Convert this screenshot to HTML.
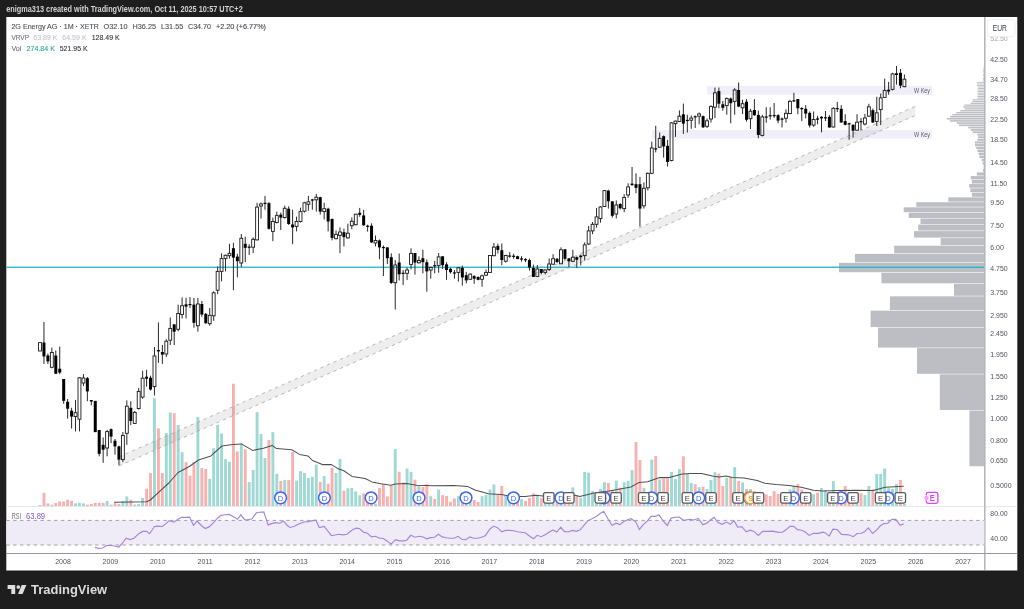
<!DOCTYPE html>
<html><head><meta charset="utf-8"><style>
html,body{margin:0;padding:0;background:#1e1e1e;overflow:hidden;width:1024px;height:609px}
svg{display:block;will-change:transform}
</style></head><body>
<svg width="1024" height="609" viewBox="0 0 1024 609">
<rect width="1024" height="609" fill="#1e1e1e"/>
<rect x="6.3" y="17.0" width="1011.0" height="553.5" fill="#ffffff"/>
<text x="6.3" y="12.1" font-family="Liberation Sans, sans-serif" font-size="8.5" fill="#d4d4d4" textLength="236.4" lengthAdjust="spacingAndGlyphs" font-weight="bold">enigma313 created with TradingView.com, Oct 11, 2025 10:57 UTC+2</text>
<rect x="969.4" y="410.52" width="14.6" height="55.71" fill="#bdbec3"/>
<rect x="939.8" y="374.35" width="44.2" height="35.62" fill="#bdbec3"/>
<rect x="917.0" y="348.15" width="67.0" height="25.64" fill="#bdbec3"/>
<rect x="878.0" y="327.61" width="106.0" height="20.00" fill="#bdbec3"/>
<rect x="870.6" y="310.70" width="113.4" height="16.36" fill="#bdbec3"/>
<rect x="889.9" y="296.33" width="94.1" height="13.82" fill="#bdbec3"/>
<rect x="954.0" y="283.84" width="30.0" height="11.94" fill="#bdbec3"/>
<rect x="881.4" y="272.79" width="102.6" height="10.50" fill="#bdbec3"/>
<rect x="839.0" y="262.88" width="145.0" height="9.36" fill="#bdbec3"/>
<rect x="854.9" y="253.91" width="129.1" height="8.43" fill="#bdbec3"/>
<rect x="894.2" y="245.70" width="89.8" height="7.66" fill="#bdbec3"/>
<rect x="940.6" y="238.14" width="43.4" height="7.01" fill="#bdbec3"/>
<rect x="914.0" y="231.13" width="70.0" height="6.46" fill="#bdbec3"/>
<rect x="918.2" y="224.60" width="65.8" height="5.98" fill="#bdbec3"/>
<rect x="920.5" y="218.49" width="63.5" height="5.56" fill="#bdbec3"/>
<rect x="908.7" y="212.75" width="75.3" height="5.20" fill="#bdbec3"/>
<rect x="903.7" y="207.33" width="80.3" height="4.87" fill="#bdbec3"/>
<rect x="916.3" y="202.20" width="67.7" height="4.58" fill="#bdbec3"/>
<rect x="948.3" y="197.33" width="35.7" height="4.32" fill="#bdbec3"/>
<rect x="971.9" y="192.70" width="12.1" height="4.08" fill="#bdbec3"/>
<rect x="970.4" y="188.28" width="13.6" height="3.87" fill="#bdbec3"/>
<rect x="969.2" y="184.05" width="14.8" height="3.67" fill="#bdbec3"/>
<rect x="971.9" y="180.01" width="12.1" height="3.50" fill="#bdbec3"/>
<rect x="970.7" y="176.12" width="13.3" height="3.33" fill="#bdbec3"/>
<rect x="976.8" y="172.39" width="7.2" height="3.18" fill="#bdbec3"/>
<rect x="983.0" y="168.80" width="1.0" height="3.04" fill="#bdbec3"/>
<rect x="983.6" y="165.34" width="0.4" height="2.91" fill="#bdbec3"/>
<rect x="982.7" y="162.00" width="1.3" height="2.79" fill="#bdbec3"/>
<rect x="981.7" y="158.77" width="2.3" height="2.68" fill="#bdbec3"/>
<rect x="979.5" y="155.65" width="4.5" height="2.57" fill="#bdbec3"/>
<rect x="978.7" y="152.62" width="5.3" height="2.47" fill="#bdbec3"/>
<rect x="977.4" y="149.69" width="6.6" height="2.38" fill="#bdbec3"/>
<rect x="976.2" y="146.85" width="7.8" height="2.29" fill="#bdbec3"/>
<rect x="975.0" y="144.08" width="9.0" height="2.21" fill="#bdbec3"/>
<rect x="975.0" y="141.40" width="9.0" height="2.14" fill="#bdbec3"/>
<rect x="977.4" y="138.79" width="6.6" height="2.06" fill="#bdbec3"/>
<rect x="978.0" y="136.25" width="6.0" height="1.99" fill="#bdbec3"/>
<rect x="977.4" y="133.77" width="6.6" height="1.93" fill="#bdbec3"/>
<rect x="972.5" y="131.35" width="11.5" height="1.86" fill="#bdbec3"/>
<rect x="970.7" y="129.00" width="13.3" height="1.81" fill="#bdbec3"/>
<rect x="968.2" y="126.70" width="15.8" height="1.75" fill="#bdbec3"/>
<rect x="959.0" y="124.46" width="25.0" height="1.69" fill="#bdbec3"/>
<rect x="956.8" y="122.26" width="27.2" height="1.64" fill="#bdbec3"/>
<rect x="949.7" y="120.12" width="34.3" height="1.59" fill="#bdbec3"/>
<rect x="947.0" y="118.02" width="37.0" height="1.55" fill="#bdbec3"/>
<rect x="950.1" y="115.97" width="33.9" height="1.50" fill="#bdbec3"/>
<rect x="952.2" y="113.96" width="31.8" height="1.46" fill="#bdbec3"/>
<rect x="956.2" y="111.99" width="27.8" height="1.42" fill="#bdbec3"/>
<rect x="960.2" y="110.06" width="23.8" height="1.38" fill="#bdbec3"/>
<rect x="964.6" y="108.17" width="19.4" height="1.34" fill="#bdbec3"/>
<rect x="963.1" y="106.32" width="20.9" height="1.30" fill="#bdbec3"/>
<rect x="964.3" y="104.50" width="19.7" height="1.27" fill="#bdbec3"/>
<rect x="970.6" y="102.72" width="13.4" height="1.23" fill="#bdbec3"/>
<rect x="972.3" y="100.96" width="11.7" height="1.20" fill="#bdbec3"/>
<rect x="972.3" y="99.24" width="11.7" height="1.17" fill="#bdbec3"/>
<rect x="977.5" y="97.55" width="6.5" height="1.14" fill="#bdbec3"/>
<rect x="977.5" y="95.89" width="6.5" height="1.11" fill="#bdbec3"/>
<rect x="977.5" y="94.26" width="6.5" height="1.08" fill="#bdbec3"/>
<rect x="977.5" y="92.65" width="6.5" height="1.06" fill="#bdbec3"/>
<rect x="977.5" y="91.07" width="6.5" height="1.03" fill="#bdbec3"/>
<rect x="977.5" y="89.52" width="6.5" height="1.00" fill="#bdbec3"/>
<rect x="978.0" y="87.99" width="6.0" height="0.98" fill="#bdbec3"/>
<rect x="978.0" y="86.49" width="6.0" height="0.95" fill="#bdbec3"/>
<rect x="976.9" y="85.01" width="7.1" height="0.93" fill="#bdbec3"/>
<rect x="976.9" y="83.55" width="7.1" height="0.91" fill="#bdbec3"/>
<rect x="976.9" y="82.11" width="7.1" height="0.89" fill="#bdbec3"/>
<rect x="982.6" y="80.70" width="1.4" height="0.87" fill="#bdbec3"/>
<rect x="982.9" y="79.30" width="1.1" height="0.84" fill="#bdbec3"/>
<rect x="982.9" y="77.93" width="1.1" height="0.82" fill="#bdbec3"/>
<rect x="982.9" y="76.57" width="1.1" height="0.81" fill="#bdbec3"/>
<rect x="982.9" y="75.23" width="1.1" height="0.79" fill="#bdbec3"/>
<rect x="982.9" y="73.92" width="1.1" height="0.77" fill="#bdbec3"/>
<rect x="982.9" y="72.62" width="1.1" height="0.75" fill="#bdbec3"/>
<rect x="982.9" y="71.33" width="1.1" height="0.73" fill="#bdbec3"/>
<rect x="982.9" y="70.07" width="1.1" height="0.72" fill="#bdbec3"/>
<rect x="982.9" y="68.82" width="1.1" height="0.70" fill="#bdbec3"/>
<rect x="982.9" y="67.58" width="1.1" height="0.68" fill="#bdbec3"/>
<rect x="984.0" y="66.37" width="0.0" height="0.67" fill="#bdbec3"/>
<rect x="984.0" y="66.15" width="0.0" height="0.50" fill="#bdbec3"/>
<rect x="707" y="85.9" width="225" height="8.9" fill="#f0eef8"/>
<rect x="652" y="130.1" width="280" height="8.4" fill="#f0eef8"/>
<g transform="translate(930,92.8) scale(0.86,1)"><text x="0" y="0" font-family="Liberation Sans, sans-serif" font-size="6.3" fill="#5a5d66" text-anchor="end">W Key</text></g>
<g transform="translate(930,136.8) scale(0.86,1)"><text x="0" y="0" font-family="Liberation Sans, sans-serif" font-size="6.3" fill="#5a5d66" text-anchor="end">W Key</text></g>
<rect x="6.5" y="266.6" width="977.5" height="1.3" fill="#1fb5cc"/>
<rect x="38.55" y="505.0" width="2.9" height="1.0" fill="#9fd9d3"/>
<rect x="42.50" y="492.8" width="2.9" height="13.2" fill="#f9b1af"/>
<rect x="46.44" y="503.4" width="2.9" height="2.6" fill="#f9b1af"/>
<rect x="50.39" y="504.7" width="2.9" height="1.3" fill="#9fd9d3"/>
<rect x="54.34" y="503.0" width="2.9" height="3.0" fill="#f9b1af"/>
<rect x="58.28" y="501.4" width="2.9" height="4.6" fill="#f9b1af"/>
<rect x="62.23" y="501.4" width="2.9" height="4.6" fill="#f9b1af"/>
<rect x="66.18" y="499.6" width="2.9" height="6.4" fill="#f9b1af"/>
<rect x="70.13" y="500.8" width="2.9" height="5.2" fill="#f9b1af"/>
<rect x="74.07" y="503.4" width="2.9" height="2.6" fill="#9fd9d3"/>
<rect x="78.02" y="502.8" width="2.9" height="3.2" fill="#9fd9d3"/>
<rect x="81.97" y="503.4" width="2.9" height="2.6" fill="#9fd9d3"/>
<rect x="85.91" y="504.7" width="2.9" height="1.3" fill="#f9b1af"/>
<rect x="89.86" y="504.0" width="2.9" height="2.0" fill="#f9b1af"/>
<rect x="93.81" y="502.9" width="2.9" height="3.1" fill="#f9b1af"/>
<rect x="97.75" y="502.9" width="2.9" height="3.1" fill="#f9b1af"/>
<rect x="101.70" y="502.9" width="2.9" height="3.1" fill="#f9b1af"/>
<rect x="105.65" y="501.0" width="2.9" height="5.0" fill="#9fd9d3"/>
<rect x="109.60" y="504.7" width="2.9" height="1.3" fill="#f9b1af"/>
<rect x="113.54" y="503.2" width="2.9" height="2.8" fill="#f9b1af"/>
<rect x="117.49" y="504.0" width="2.9" height="2.0" fill="#f9b1af"/>
<rect x="121.44" y="501.0" width="2.9" height="5.0" fill="#9fd9d3"/>
<rect x="125.38" y="496.4" width="2.9" height="9.6" fill="#9fd9d3"/>
<rect x="129.33" y="499.8" width="2.9" height="6.2" fill="#f9b1af"/>
<rect x="133.28" y="504.5" width="2.9" height="1.5" fill="#9fd9d3"/>
<rect x="137.23" y="504.1" width="2.9" height="1.9" fill="#9fd9d3"/>
<rect x="141.17" y="498.0" width="2.9" height="8.0" fill="#9fd9d3"/>
<rect x="145.12" y="488.7" width="2.9" height="17.3" fill="#f9b1af"/>
<rect x="149.07" y="473.0" width="2.9" height="33.0" fill="#f9b1af"/>
<rect x="153.01" y="398.3" width="2.9" height="107.7" fill="#9fd9d3"/>
<rect x="156.96" y="428.4" width="2.9" height="77.6" fill="#f9b1af"/>
<rect x="160.91" y="473.0" width="2.9" height="33.0" fill="#f9b1af"/>
<rect x="164.85" y="433.0" width="2.9" height="73.0" fill="#9fd9d3"/>
<rect x="168.80" y="412.6" width="2.9" height="93.4" fill="#9fd9d3"/>
<rect x="172.75" y="413.2" width="2.9" height="92.8" fill="#f9b1af"/>
<rect x="176.70" y="425.0" width="2.9" height="81.0" fill="#9fd9d3"/>
<rect x="180.64" y="452.2" width="2.9" height="53.8" fill="#9fd9d3"/>
<rect x="184.59" y="462.2" width="2.9" height="43.8" fill="#f9b1af"/>
<rect x="188.54" y="475.7" width="2.9" height="30.3" fill="#f9b1af"/>
<rect x="192.48" y="462.2" width="2.9" height="43.8" fill="#f9b1af"/>
<rect x="196.43" y="416.9" width="2.9" height="89.1" fill="#9fd9d3"/>
<rect x="200.38" y="468.0" width="2.9" height="38.0" fill="#f9b1af"/>
<rect x="204.32" y="469.0" width="2.9" height="37.0" fill="#f9b1af"/>
<rect x="208.27" y="478.8" width="2.9" height="27.2" fill="#9fd9d3"/>
<rect x="212.22" y="448.2" width="2.9" height="57.8" fill="#9fd9d3"/>
<rect x="216.17" y="424.8" width="2.9" height="81.2" fill="#9fd9d3"/>
<rect x="220.11" y="433.6" width="2.9" height="72.4" fill="#9fd9d3"/>
<rect x="224.06" y="459.2" width="2.9" height="46.8" fill="#9fd9d3"/>
<rect x="228.01" y="461.8" width="2.9" height="44.2" fill="#9fd9d3"/>
<rect x="231.95" y="383.7" width="2.9" height="122.3" fill="#f9b1af"/>
<rect x="235.90" y="451.5" width="2.9" height="54.5" fill="#f9b1af"/>
<rect x="239.85" y="443.9" width="2.9" height="62.1" fill="#9fd9d3"/>
<rect x="243.79" y="449.3" width="2.9" height="56.7" fill="#f9b1af"/>
<rect x="247.74" y="482.1" width="2.9" height="23.9" fill="#9fd9d3"/>
<rect x="251.69" y="470.0" width="2.9" height="36.0" fill="#9fd9d3"/>
<rect x="255.64" y="412.2" width="2.9" height="93.8" fill="#9fd9d3"/>
<rect x="259.58" y="434.0" width="2.9" height="72.0" fill="#9fd9d3"/>
<rect x="263.53" y="458.0" width="2.9" height="48.0" fill="#9fd9d3"/>
<rect x="267.48" y="440.0" width="2.9" height="66.0" fill="#f9b1af"/>
<rect x="271.42" y="432.2" width="2.9" height="73.8" fill="#9fd9d3"/>
<rect x="275.37" y="473.8" width="2.9" height="32.2" fill="#9fd9d3"/>
<rect x="279.32" y="481.0" width="2.9" height="25.0" fill="#f9b1af"/>
<rect x="283.26" y="479.9" width="2.9" height="26.1" fill="#9fd9d3"/>
<rect x="287.21" y="479.9" width="2.9" height="26.1" fill="#f9b1af"/>
<rect x="291.16" y="452.0" width="2.9" height="54.0" fill="#f9b1af"/>
<rect x="295.11" y="480.6" width="2.9" height="25.4" fill="#9fd9d3"/>
<rect x="299.05" y="471.2" width="2.9" height="34.8" fill="#9fd9d3"/>
<rect x="303.00" y="473.0" width="2.9" height="33.0" fill="#9fd9d3"/>
<rect x="306.95" y="477.9" width="2.9" height="28.1" fill="#9fd9d3"/>
<rect x="310.89" y="476.8" width="2.9" height="29.2" fill="#9fd9d3"/>
<rect x="314.84" y="464.6" width="2.9" height="41.4" fill="#9fd9d3"/>
<rect x="318.79" y="481.9" width="2.9" height="24.1" fill="#f9b1af"/>
<rect x="322.73" y="476.0" width="2.9" height="30.0" fill="#9fd9d3"/>
<rect x="326.68" y="483.7" width="2.9" height="22.3" fill="#f9b1af"/>
<rect x="330.63" y="467.7" width="2.9" height="38.3" fill="#f9b1af"/>
<rect x="334.57" y="473.0" width="2.9" height="33.0" fill="#9fd9d3"/>
<rect x="338.52" y="459.0" width="2.9" height="47.0" fill="#9fd9d3"/>
<rect x="342.47" y="490.7" width="2.9" height="15.3" fill="#f9b1af"/>
<rect x="346.42" y="488.3" width="2.9" height="17.7" fill="#9fd9d3"/>
<rect x="350.36" y="487.9" width="2.9" height="18.1" fill="#9fd9d3"/>
<rect x="354.31" y="491.4" width="2.9" height="14.6" fill="#9fd9d3"/>
<rect x="358.26" y="495.3" width="2.9" height="10.7" fill="#9fd9d3"/>
<rect x="362.20" y="493.4" width="2.9" height="12.6" fill="#f9b1af"/>
<rect x="366.15" y="500.0" width="2.9" height="6.0" fill="#f9b1af"/>
<rect x="370.10" y="500.0" width="2.9" height="6.0" fill="#f9b1af"/>
<rect x="374.05" y="503.7" width="2.9" height="2.3" fill="#9fd9d3"/>
<rect x="377.99" y="488.0" width="2.9" height="18.0" fill="#f9b1af"/>
<rect x="381.94" y="484.1" width="2.9" height="21.9" fill="#f9b1af"/>
<rect x="385.89" y="496.4" width="2.9" height="9.6" fill="#f9b1af"/>
<rect x="389.83" y="485.3" width="2.9" height="20.7" fill="#f9b1af"/>
<rect x="393.78" y="448.9" width="2.9" height="57.1" fill="#9fd9d3"/>
<rect x="397.73" y="471.8" width="2.9" height="34.2" fill="#f9b1af"/>
<rect x="401.67" y="482.5" width="2.9" height="23.5" fill="#f9b1af"/>
<rect x="405.62" y="468.5" width="2.9" height="37.5" fill="#9fd9d3"/>
<rect x="409.57" y="471.8" width="2.9" height="34.2" fill="#9fd9d3"/>
<rect x="413.52" y="479.7" width="2.9" height="26.3" fill="#f9b1af"/>
<rect x="417.46" y="485.2" width="2.9" height="20.8" fill="#9fd9d3"/>
<rect x="421.41" y="487.0" width="2.9" height="19.0" fill="#f9b1af"/>
<rect x="425.36" y="484.1" width="2.9" height="21.9" fill="#f9b1af"/>
<rect x="429.30" y="496.2" width="2.9" height="9.8" fill="#9fd9d3"/>
<rect x="433.25" y="499.0" width="2.9" height="7.0" fill="#f9b1af"/>
<rect x="437.20" y="489.5" width="2.9" height="16.5" fill="#9fd9d3"/>
<rect x="441.14" y="495.2" width="2.9" height="10.8" fill="#f9b1af"/>
<rect x="445.09" y="496.0" width="2.9" height="10.0" fill="#f9b1af"/>
<rect x="449.04" y="501.9" width="2.9" height="4.1" fill="#f9b1af"/>
<rect x="452.99" y="498.4" width="2.9" height="7.6" fill="#f9b1af"/>
<rect x="456.93" y="496.2" width="2.9" height="9.8" fill="#9fd9d3"/>
<rect x="460.88" y="500.0" width="2.9" height="6.0" fill="#f9b1af"/>
<rect x="464.83" y="501.0" width="2.9" height="5.0" fill="#f9b1af"/>
<rect x="468.77" y="500.5" width="2.9" height="5.5" fill="#9fd9d3"/>
<rect x="472.72" y="500.0" width="2.9" height="6.0" fill="#f9b1af"/>
<rect x="476.67" y="501.9" width="2.9" height="4.1" fill="#f9b1af"/>
<rect x="480.61" y="496.2" width="2.9" height="9.8" fill="#9fd9d3"/>
<rect x="484.56" y="494.8" width="2.9" height="11.2" fill="#9fd9d3"/>
<rect x="488.51" y="489.6" width="2.9" height="16.4" fill="#9fd9d3"/>
<rect x="492.46" y="484.4" width="2.9" height="21.6" fill="#9fd9d3"/>
<rect x="496.40" y="494.7" width="2.9" height="11.3" fill="#f9b1af"/>
<rect x="500.35" y="486.0" width="2.9" height="20.0" fill="#f9b1af"/>
<rect x="504.30" y="495.3" width="2.9" height="10.7" fill="#9fd9d3"/>
<rect x="508.24" y="500.0" width="2.9" height="6.0" fill="#9fd9d3"/>
<rect x="512.19" y="501.0" width="2.9" height="5.0" fill="#f9b1af"/>
<rect x="516.14" y="501.0" width="2.9" height="5.0" fill="#f9b1af"/>
<rect x="520.08" y="499.2" width="2.9" height="6.8" fill="#9fd9d3"/>
<rect x="524.03" y="500.9" width="2.9" height="5.1" fill="#f9b1af"/>
<rect x="527.98" y="498.1" width="2.9" height="7.9" fill="#f9b1af"/>
<rect x="531.92" y="493.4" width="2.9" height="12.6" fill="#f9b1af"/>
<rect x="535.87" y="495.9" width="2.9" height="10.1" fill="#9fd9d3"/>
<rect x="539.82" y="498.1" width="2.9" height="7.9" fill="#f9b1af"/>
<rect x="543.77" y="500.0" width="2.9" height="6.0" fill="#9fd9d3"/>
<rect x="547.71" y="500.0" width="2.9" height="6.0" fill="#9fd9d3"/>
<rect x="551.66" y="499.0" width="2.9" height="7.0" fill="#9fd9d3"/>
<rect x="555.61" y="500.0" width="2.9" height="6.0" fill="#f9b1af"/>
<rect x="559.55" y="498.0" width="2.9" height="8.0" fill="#9fd9d3"/>
<rect x="563.50" y="498.0" width="2.9" height="8.0" fill="#f9b1af"/>
<rect x="567.45" y="497.0" width="2.9" height="9.0" fill="#f9b1af"/>
<rect x="571.39" y="487.4" width="2.9" height="18.6" fill="#9fd9d3"/>
<rect x="575.34" y="495.2" width="2.9" height="10.8" fill="#f9b1af"/>
<rect x="579.29" y="497.9" width="2.9" height="8.1" fill="#9fd9d3"/>
<rect x="583.24" y="472.0" width="2.9" height="34.0" fill="#9fd9d3"/>
<rect x="587.18" y="472.7" width="2.9" height="33.3" fill="#9fd9d3"/>
<rect x="591.13" y="491.1" width="2.9" height="14.9" fill="#9fd9d3"/>
<rect x="595.08" y="494.0" width="2.9" height="12.0" fill="#9fd9d3"/>
<rect x="599.02" y="489.0" width="2.9" height="17.0" fill="#9fd9d3"/>
<rect x="602.97" y="482.2" width="2.9" height="23.8" fill="#9fd9d3"/>
<rect x="606.92" y="482.9" width="2.9" height="23.1" fill="#f9b1af"/>
<rect x="610.87" y="490.0" width="2.9" height="16.0" fill="#f9b1af"/>
<rect x="614.81" y="480.6" width="2.9" height="25.4" fill="#9fd9d3"/>
<rect x="618.76" y="487.7" width="2.9" height="18.3" fill="#f9b1af"/>
<rect x="622.71" y="482.2" width="2.9" height="23.8" fill="#9fd9d3"/>
<rect x="626.65" y="480.9" width="2.9" height="25.1" fill="#9fd9d3"/>
<rect x="630.60" y="470.2" width="2.9" height="35.8" fill="#9fd9d3"/>
<rect x="634.55" y="442.1" width="2.9" height="63.9" fill="#f9b1af"/>
<rect x="638.49" y="460.0" width="2.9" height="46.0" fill="#f9b1af"/>
<rect x="642.44" y="487.8" width="2.9" height="18.2" fill="#9fd9d3"/>
<rect x="646.39" y="492.0" width="2.9" height="14.0" fill="#9fd9d3"/>
<rect x="650.33" y="459.6" width="2.9" height="46.4" fill="#9fd9d3"/>
<rect x="654.28" y="456.0" width="2.9" height="50.0" fill="#f9b1af"/>
<rect x="658.23" y="479.4" width="2.9" height="26.6" fill="#9fd9d3"/>
<rect x="662.18" y="478.8" width="2.9" height="27.2" fill="#f9b1af"/>
<rect x="666.12" y="478.8" width="2.9" height="27.2" fill="#f9b1af"/>
<rect x="670.07" y="472.0" width="2.9" height="34.0" fill="#9fd9d3"/>
<rect x="674.02" y="479.1" width="2.9" height="26.9" fill="#9fd9d3"/>
<rect x="677.96" y="469.2" width="2.9" height="36.8" fill="#9fd9d3"/>
<rect x="681.91" y="456.3" width="2.9" height="49.7" fill="#f9b1af"/>
<rect x="685.86" y="474.0" width="2.9" height="32.0" fill="#9fd9d3"/>
<rect x="689.80" y="483.0" width="2.9" height="23.0" fill="#9fd9d3"/>
<rect x="693.75" y="484.2" width="2.9" height="21.8" fill="#f9b1af"/>
<rect x="697.70" y="487.2" width="2.9" height="18.8" fill="#9fd9d3"/>
<rect x="701.65" y="486.8" width="2.9" height="19.2" fill="#f9b1af"/>
<rect x="705.59" y="489.0" width="2.9" height="17.0" fill="#9fd9d3"/>
<rect x="709.54" y="480.0" width="2.9" height="26.0" fill="#9fd9d3"/>
<rect x="713.49" y="472.1" width="2.9" height="33.9" fill="#9fd9d3"/>
<rect x="717.43" y="473.6" width="2.9" height="32.4" fill="#f9b1af"/>
<rect x="721.38" y="486.0" width="2.9" height="20.0" fill="#f9b1af"/>
<rect x="725.33" y="477.8" width="2.9" height="28.2" fill="#9fd9d3"/>
<rect x="729.27" y="477.1" width="2.9" height="28.9" fill="#f9b1af"/>
<rect x="733.22" y="467.1" width="2.9" height="38.9" fill="#9fd9d3"/>
<rect x="737.17" y="481.0" width="2.9" height="25.0" fill="#f9b1af"/>
<rect x="741.12" y="482.4" width="2.9" height="23.6" fill="#9fd9d3"/>
<rect x="745.06" y="489.0" width="2.9" height="17.0" fill="#f9b1af"/>
<rect x="749.01" y="489.0" width="2.9" height="17.0" fill="#9fd9d3"/>
<rect x="752.96" y="491.0" width="2.9" height="15.0" fill="#f9b1af"/>
<rect x="756.90" y="495.0" width="2.9" height="11.0" fill="#f9b1af"/>
<rect x="760.85" y="497.0" width="2.9" height="9.0" fill="#9fd9d3"/>
<rect x="764.80" y="494.3" width="2.9" height="11.7" fill="#f9b1af"/>
<rect x="768.75" y="495.9" width="2.9" height="10.1" fill="#f9b1af"/>
<rect x="772.69" y="491.1" width="2.9" height="14.9" fill="#f9b1af"/>
<rect x="776.64" y="494.0" width="2.9" height="12.0" fill="#f9b1af"/>
<rect x="780.59" y="496.0" width="2.9" height="10.0" fill="#f9b1af"/>
<rect x="784.53" y="495.0" width="2.9" height="11.0" fill="#f9b1af"/>
<rect x="788.48" y="489.4" width="2.9" height="16.6" fill="#9fd9d3"/>
<rect x="792.43" y="485.9" width="2.9" height="20.1" fill="#9fd9d3"/>
<rect x="796.37" y="484.2" width="2.9" height="21.8" fill="#f9b1af"/>
<rect x="800.32" y="489.4" width="2.9" height="16.6" fill="#f9b1af"/>
<rect x="804.27" y="494.0" width="2.9" height="12.0" fill="#f9b1af"/>
<rect x="808.21" y="494.0" width="2.9" height="12.0" fill="#f9b1af"/>
<rect x="812.16" y="494.2" width="2.9" height="11.8" fill="#9fd9d3"/>
<rect x="816.11" y="492.6" width="2.9" height="13.4" fill="#f9b1af"/>
<rect x="820.06" y="488.0" width="2.9" height="18.0" fill="#9fd9d3"/>
<rect x="824.00" y="490.2" width="2.9" height="15.8" fill="#9fd9d3"/>
<rect x="827.95" y="492.0" width="2.9" height="14.0" fill="#f9b1af"/>
<rect x="831.90" y="481.1" width="2.9" height="24.9" fill="#9fd9d3"/>
<rect x="835.84" y="492.0" width="2.9" height="14.0" fill="#f9b1af"/>
<rect x="839.79" y="490.0" width="2.9" height="16.0" fill="#f9b1af"/>
<rect x="843.74" y="486.0" width="2.9" height="20.0" fill="#f9b1af"/>
<rect x="847.68" y="495.0" width="2.9" height="11.0" fill="#f9b1af"/>
<rect x="851.63" y="494.0" width="2.9" height="12.0" fill="#f9b1af"/>
<rect x="855.58" y="493.0" width="2.9" height="13.0" fill="#9fd9d3"/>
<rect x="859.53" y="493.3" width="2.9" height="12.7" fill="#f9b1af"/>
<rect x="863.47" y="495.0" width="2.9" height="11.0" fill="#9fd9d3"/>
<rect x="867.42" y="486.0" width="2.9" height="20.0" fill="#9fd9d3"/>
<rect x="871.37" y="489.4" width="2.9" height="16.6" fill="#f9b1af"/>
<rect x="875.31" y="474.0" width="2.9" height="32.0" fill="#9fd9d3"/>
<rect x="879.26" y="474.0" width="2.9" height="32.0" fill="#9fd9d3"/>
<rect x="883.21" y="468.5" width="2.9" height="37.5" fill="#9fd9d3"/>
<rect x="887.15" y="488.2" width="2.9" height="17.8" fill="#9fd9d3"/>
<rect x="891.10" y="489.0" width="2.9" height="17.0" fill="#9fd9d3"/>
<rect x="895.05" y="483.8" width="2.9" height="22.2" fill="#9fd9d3"/>
<rect x="899.00" y="479.9" width="2.9" height="26.1" fill="#f9b1af"/>
<rect x="902.94" y="503.8" width="2.9" height="2.2" fill="#9fd9d3"/>
<polyline points="114.0,502.2 146.6,501.7 150.3,500.0 160.5,490.6 168.8,483.0 178.1,472.5 189.3,466.5 198.5,460.0 210.9,455.9 221.9,446.0 232.8,444.5 241.5,443.9 252.5,450.4 263.4,448.2 272.1,445.4 276.6,448.6 291.8,449.8 299.5,454.4 307.9,455.9 312.5,460.5 322.4,464.6 331.5,464.6 337.6,468.4 343.8,470.7 352.0,476.4 365.2,478.5 371.9,481.9 380.9,483.8 390.9,485.3 395.4,484.1 406.6,483.4 416.6,485.3 433.1,485.7 454.1,485.4 467.4,486.4 475.0,490.0 488.4,493.8 501.4,494.5 510.3,496.4 524.9,496.4 536.0,495.3 542.7,495.9 560.0,496.0 575.0,495.2 579.8,496.6 594.1,493.1 609.1,491.1 620.0,489.0 630.9,487.0 639.2,482.4 647.6,481.8 659.6,477.6 669.2,477.6 682.4,474.0 690.8,473.4 701.6,473.6 713.5,476.2 719.2,477.1 725.9,475.9 732.6,477.4 744.0,478.1 757.3,480.5 765.0,483.3 776.0,484.6 789.1,485.5 801.2,487.2 813.4,490.2 823.0,490.9 836.9,490.5 856.0,490.2 873.4,490.4 885.1,487.2 903.7,486.2" fill="none" stroke="#505050" stroke-width="1.05" stroke-linejoin="round"/>
<polygon points="119,465.9 915.4,115.4 915.4,106.3 119,456.8" fill="#787b86" fill-opacity="0.13"/>
<line x1="119" y1="465.9" x2="915.4" y2="115.4" stroke="#a5a8b0" stroke-width="0.8" stroke-dasharray="3.3,3.8"/>
<line x1="119" y1="456.8" x2="915.4" y2="106.3" stroke="#a5a8b0" stroke-width="0.8" stroke-dasharray="3.3,3.8"/>
<rect x="38.55" y="342.6" width="2.9" height="8.4" fill="none" stroke="#1a1a1a" stroke-width="0.9"/>
<rect x="43.45" y="322.0" width="1" height="42.0" fill="#2b2b2b"/>
<rect x="42.45" y="342.6" width="3" height="13.8" fill="#000"/>
<rect x="47.39" y="353.5" width="1" height="10.5" fill="#2b2b2b"/>
<rect x="46.39" y="355.5" width="3" height="5.9" fill="#000"/>
<rect x="51.34" y="347.6" width="1" height="4.9" fill="#2b2b2b"/>
<rect x="51.34" y="367.3" width="1" height="1.0" fill="#2b2b2b"/>
<rect x="50.39" y="352.5" width="2.9" height="14.8" fill="none" stroke="#1a1a1a" stroke-width="0.9"/>
<rect x="55.29" y="350.5" width="1" height="23.3" fill="#2b2b2b"/>
<rect x="54.29" y="355.5" width="3" height="18.3" fill="#000"/>
<rect x="59.23" y="346.6" width="1" height="27.6" fill="#2b2b2b"/>
<rect x="58.23" y="368.7" width="3" height="3.9" fill="#000"/>
<rect x="63.18" y="379.0" width="1" height="24.8" fill="#2b2b2b"/>
<rect x="62.18" y="379.0" width="3" height="21.8" fill="#000"/>
<rect x="67.13" y="399.0" width="1" height="19.6" fill="#2b2b2b"/>
<rect x="66.13" y="401.8" width="3" height="6.9" fill="#000"/>
<rect x="71.08" y="407.8" width="1" height="20.7" fill="#2b2b2b"/>
<rect x="70.08" y="410.7" width="3" height="5.9" fill="#000"/>
<rect x="75.02" y="399.9" width="1" height="12.8" fill="#2b2b2b"/>
<rect x="75.02" y="416.6" width="1" height="14.8" fill="#2b2b2b"/>
<rect x="74.07" y="412.7" width="2.9" height="3.9" fill="none" stroke="#1a1a1a" stroke-width="0.9"/>
<rect x="78.97" y="377.0" width="1" height="0.8" fill="#2b2b2b"/>
<rect x="78.97" y="419.2" width="1" height="12.2" fill="#2b2b2b"/>
<rect x="78.02" y="377.8" width="2.9" height="41.4" fill="none" stroke="#1a1a1a" stroke-width="0.9"/>
<rect x="82.92" y="374.0" width="1" height="4.0" fill="#2b2b2b"/>
<rect x="82.92" y="383.0" width="1" height="3.0" fill="#2b2b2b"/>
<rect x="81.97" y="378.0" width="2.9" height="5.0" fill="none" stroke="#1a1a1a" stroke-width="0.9"/>
<rect x="86.86" y="377.0" width="1" height="24.2" fill="#2b2b2b"/>
<rect x="85.86" y="378.2" width="3" height="13.2" fill="#000"/>
<rect x="90.81" y="400.0" width="1" height="5.3" fill="#2b2b2b"/>
<rect x="89.81" y="400.0" width="3" height="1.5" fill="#000"/>
<rect x="94.76" y="400.9" width="1" height="31.2" fill="#2b2b2b"/>
<rect x="93.76" y="400.9" width="3" height="31.2" fill="#000"/>
<rect x="98.70" y="430.0" width="1" height="26.3" fill="#2b2b2b"/>
<rect x="97.70" y="430.0" width="3" height="23.8" fill="#000"/>
<rect x="102.65" y="437.4" width="1" height="25.5" fill="#2b2b2b"/>
<rect x="101.65" y="444.8" width="3" height="4.9" fill="#000"/>
<rect x="106.60" y="430.0" width="1" height="1.6" fill="#2b2b2b"/>
<rect x="106.60" y="448.0" width="1" height="8.3" fill="#2b2b2b"/>
<rect x="105.65" y="431.6" width="2.9" height="16.4" fill="none" stroke="#1a1a1a" stroke-width="0.9"/>
<rect x="110.55" y="428.4" width="1" height="14.8" fill="#2b2b2b"/>
<rect x="109.55" y="429.2" width="3" height="7.4" fill="#000"/>
<rect x="114.49" y="439.0" width="1" height="15.7" fill="#2b2b2b"/>
<rect x="113.49" y="440.7" width="3" height="5.7" fill="#000"/>
<rect x="118.44" y="445.6" width="1" height="19.7" fill="#2b2b2b"/>
<rect x="117.44" y="446.4" width="3" height="13.2" fill="#000"/>
<rect x="122.39" y="432.0" width="1" height="3.4" fill="#2b2b2b"/>
<rect x="122.39" y="459.6" width="1" height="2.4" fill="#2b2b2b"/>
<rect x="121.44" y="435.4" width="2.9" height="24.2" fill="none" stroke="#1a1a1a" stroke-width="0.9"/>
<rect x="126.33" y="400.4" width="1" height="5.8" fill="#2b2b2b"/>
<rect x="126.33" y="433.3" width="1" height="11.5" fill="#2b2b2b"/>
<rect x="125.38" y="406.2" width="2.9" height="27.1" fill="none" stroke="#1a1a1a" stroke-width="0.9"/>
<rect x="130.28" y="401.2" width="1" height="23.9" fill="#2b2b2b"/>
<rect x="129.28" y="407.8" width="3" height="13.2" fill="#000"/>
<rect x="134.23" y="411.0" width="1" height="1.4" fill="#2b2b2b"/>
<rect x="134.23" y="423.4" width="1" height="0.6" fill="#2b2b2b"/>
<rect x="133.28" y="412.4" width="2.9" height="11.0" fill="none" stroke="#1a1a1a" stroke-width="0.9"/>
<rect x="138.18" y="388.0" width="1" height="3.4" fill="#2b2b2b"/>
<rect x="138.18" y="408.6" width="1" height="0.9" fill="#2b2b2b"/>
<rect x="137.23" y="391.4" width="2.9" height="17.2" fill="none" stroke="#1a1a1a" stroke-width="0.9"/>
<rect x="142.12" y="370.8" width="1" height="7.4" fill="#2b2b2b"/>
<rect x="142.12" y="397.1" width="1" height="1.7" fill="#2b2b2b"/>
<rect x="141.17" y="378.2" width="2.9" height="18.9" fill="none" stroke="#1a1a1a" stroke-width="0.9"/>
<rect x="146.07" y="369.8" width="1" height="16.8" fill="#2b2b2b"/>
<rect x="145.07" y="376.7" width="3" height="2.0" fill="#000"/>
<rect x="150.02" y="375.7" width="1" height="14.8" fill="#2b2b2b"/>
<rect x="149.02" y="377.7" width="3" height="11.8" fill="#000"/>
<rect x="153.96" y="347.0" width="1" height="9.0" fill="#2b2b2b"/>
<rect x="153.96" y="386.6" width="1" height="8.9" fill="#2b2b2b"/>
<rect x="153.01" y="356.0" width="2.9" height="30.6" fill="none" stroke="#1a1a1a" stroke-width="0.9"/>
<rect x="157.91" y="322.4" width="1" height="40.5" fill="#2b2b2b"/>
<rect x="156.91" y="350.0" width="3" height="1.4" fill="#000"/>
<rect x="161.86" y="345.0" width="1" height="18.9" fill="#2b2b2b"/>
<rect x="160.86" y="352.0" width="3" height="2.6" fill="#000"/>
<rect x="165.80" y="339.2" width="1" height="2.0" fill="#2b2b2b"/>
<rect x="165.80" y="354.0" width="1" height="3.0" fill="#2b2b2b"/>
<rect x="164.85" y="341.2" width="2.9" height="12.8" fill="none" stroke="#1a1a1a" stroke-width="0.9"/>
<rect x="169.75" y="317.5" width="1" height="10.9" fill="#2b2b2b"/>
<rect x="169.75" y="340.2" width="1" height="4.8" fill="#2b2b2b"/>
<rect x="168.80" y="328.4" width="2.9" height="11.8" fill="none" stroke="#1a1a1a" stroke-width="0.9"/>
<rect x="173.70" y="324.4" width="1" height="20.6" fill="#2b2b2b"/>
<rect x="172.70" y="324.4" width="3" height="7.3" fill="#000"/>
<rect x="177.65" y="304.7" width="1" height="8.8" fill="#2b2b2b"/>
<rect x="177.65" y="329.3" width="1" height="2.0" fill="#2b2b2b"/>
<rect x="176.70" y="313.5" width="2.9" height="15.8" fill="none" stroke="#1a1a1a" stroke-width="0.9"/>
<rect x="181.59" y="297.4" width="1" height="8.3" fill="#2b2b2b"/>
<rect x="181.59" y="314.5" width="1" height="4.0" fill="#2b2b2b"/>
<rect x="180.64" y="305.7" width="2.9" height="8.8" fill="none" stroke="#1a1a1a" stroke-width="0.9"/>
<rect x="185.54" y="297.8" width="1" height="20.7" fill="#2b2b2b"/>
<rect x="184.54" y="304.3" width="3" height="2.3" fill="#000"/>
<rect x="189.49" y="297.1" width="1" height="10.9" fill="#2b2b2b"/>
<rect x="188.49" y="304.0" width="3" height="1.2" fill="#000"/>
<rect x="193.43" y="298.0" width="1" height="29.7" fill="#2b2b2b"/>
<rect x="192.43" y="304.6" width="3" height="18.2" fill="#000"/>
<rect x="197.38" y="298.0" width="1" height="6.0" fill="#2b2b2b"/>
<rect x="197.38" y="325.7" width="1" height="5.9" fill="#2b2b2b"/>
<rect x="196.43" y="304.0" width="2.9" height="21.7" fill="none" stroke="#1a1a1a" stroke-width="0.9"/>
<rect x="201.33" y="301.0" width="1" height="15.8" fill="#2b2b2b"/>
<rect x="200.33" y="304.0" width="3" height="10.5" fill="#000"/>
<rect x="205.27" y="312.9" width="1" height="10.8" fill="#2b2b2b"/>
<rect x="204.27" y="313.9" width="3" height="9.3" fill="#000"/>
<rect x="209.22" y="308.0" width="1" height="7.3" fill="#2b2b2b"/>
<rect x="209.22" y="323.7" width="1" height="2.0" fill="#2b2b2b"/>
<rect x="208.27" y="315.3" width="2.9" height="8.4" fill="none" stroke="#1a1a1a" stroke-width="0.9"/>
<rect x="213.17" y="291.2" width="1" height="1.6" fill="#2b2b2b"/>
<rect x="213.17" y="315.8" width="1" height="5.0" fill="#2b2b2b"/>
<rect x="212.22" y="292.8" width="2.9" height="23.0" fill="none" stroke="#1a1a1a" stroke-width="0.9"/>
<rect x="217.12" y="266.5" width="1" height="4.9" fill="#2b2b2b"/>
<rect x="217.12" y="290.2" width="1" height="3.9" fill="#2b2b2b"/>
<rect x="216.17" y="271.4" width="2.9" height="18.8" fill="none" stroke="#1a1a1a" stroke-width="0.9"/>
<rect x="221.06" y="253.3" width="1" height="5.3" fill="#2b2b2b"/>
<rect x="221.06" y="271.4" width="1" height="9.9" fill="#2b2b2b"/>
<rect x="220.11" y="258.6" width="2.9" height="12.8" fill="none" stroke="#1a1a1a" stroke-width="0.9"/>
<rect x="225.01" y="254.7" width="1" height="0.6" fill="#2b2b2b"/>
<rect x="225.01" y="258.6" width="1" height="12.8" fill="#2b2b2b"/>
<rect x="224.06" y="255.3" width="2.9" height="3.3" fill="none" stroke="#1a1a1a" stroke-width="0.9"/>
<rect x="228.96" y="243.8" width="1" height="9.5" fill="#2b2b2b"/>
<rect x="228.96" y="255.7" width="1" height="2.9" fill="#2b2b2b"/>
<rect x="228.01" y="253.3" width="2.9" height="2.4" fill="none" stroke="#1a1a1a" stroke-width="0.9"/>
<rect x="232.90" y="242.8" width="1" height="47.4" fill="#2b2b2b"/>
<rect x="231.90" y="248.2" width="3" height="9.4" fill="#000"/>
<rect x="236.85" y="253.7" width="1" height="23.7" fill="#2b2b2b"/>
<rect x="235.85" y="256.6" width="3" height="4.6" fill="#000"/>
<rect x="240.80" y="234.0" width="1" height="4.3" fill="#2b2b2b"/>
<rect x="240.80" y="263.0" width="1" height="4.0" fill="#2b2b2b"/>
<rect x="239.85" y="238.3" width="2.9" height="24.7" fill="none" stroke="#1a1a1a" stroke-width="0.9"/>
<rect x="244.74" y="236.7" width="1" height="25.3" fill="#2b2b2b"/>
<rect x="243.74" y="243.8" width="3" height="4.0" fill="#000"/>
<rect x="248.69" y="244.2" width="1" height="10.8" fill="#2b2b2b"/>
<rect x="247.69" y="246.6" width="3" height="1.2" fill="#000"/>
<rect x="252.64" y="237.3" width="1" height="2.0" fill="#2b2b2b"/>
<rect x="252.64" y="247.2" width="1" height="5.9" fill="#2b2b2b"/>
<rect x="251.69" y="239.3" width="2.9" height="7.9" fill="none" stroke="#1a1a1a" stroke-width="0.9"/>
<rect x="256.59" y="202.8" width="1" height="4.3" fill="#2b2b2b"/>
<rect x="256.59" y="239.9" width="1" height="0.4" fill="#2b2b2b"/>
<rect x="255.64" y="207.1" width="2.9" height="32.8" fill="none" stroke="#1a1a1a" stroke-width="0.9"/>
<rect x="260.53" y="202.4" width="1" height="1.6" fill="#2b2b2b"/>
<rect x="260.53" y="206.0" width="1" height="12.5" fill="#2b2b2b"/>
<rect x="259.58" y="204.0" width="2.9" height="2.0" fill="none" stroke="#1a1a1a" stroke-width="0.9"/>
<rect x="264.48" y="195.9" width="1" height="13.8" fill="#2b2b2b"/>
<rect x="263.48" y="202.8" width="3" height="1.2" fill="#000"/>
<rect x="268.43" y="202.0" width="1" height="27.5" fill="#2b2b2b"/>
<rect x="267.43" y="203.2" width="3" height="25.6" fill="#000"/>
<rect x="272.37" y="217.6" width="1" height="3.9" fill="#2b2b2b"/>
<rect x="272.37" y="231.4" width="1" height="9.8" fill="#2b2b2b"/>
<rect x="271.42" y="221.5" width="2.9" height="9.9" fill="none" stroke="#1a1a1a" stroke-width="0.9"/>
<rect x="276.32" y="211.6" width="1" height="4.0" fill="#2b2b2b"/>
<rect x="276.32" y="222.5" width="1" height="1.0" fill="#2b2b2b"/>
<rect x="275.37" y="215.6" width="2.9" height="6.9" fill="none" stroke="#1a1a1a" stroke-width="0.9"/>
<rect x="280.27" y="212.6" width="1" height="17.4" fill="#2b2b2b"/>
<rect x="279.27" y="214.6" width="3" height="3.0" fill="#000"/>
<rect x="284.21" y="205.7" width="1" height="2.6" fill="#2b2b2b"/>
<rect x="284.21" y="217.6" width="1" height="0.9" fill="#2b2b2b"/>
<rect x="283.26" y="208.3" width="2.9" height="9.3" fill="none" stroke="#1a1a1a" stroke-width="0.9"/>
<rect x="288.16" y="206.3" width="1" height="18.6" fill="#2b2b2b"/>
<rect x="287.16" y="208.7" width="3" height="15.3" fill="#000"/>
<rect x="292.11" y="209.7" width="1" height="34.5" fill="#2b2b2b"/>
<rect x="291.11" y="224.5" width="3" height="2.9" fill="#000"/>
<rect x="296.06" y="216.6" width="1" height="4.9" fill="#2b2b2b"/>
<rect x="296.06" y="226.4" width="1" height="5.0" fill="#2b2b2b"/>
<rect x="295.11" y="221.5" width="2.9" height="4.9" fill="none" stroke="#1a1a1a" stroke-width="0.9"/>
<rect x="300.00" y="207.7" width="1" height="3.9" fill="#2b2b2b"/>
<rect x="300.00" y="221.5" width="1" height="1.0" fill="#2b2b2b"/>
<rect x="299.05" y="211.6" width="2.9" height="9.9" fill="none" stroke="#1a1a1a" stroke-width="0.9"/>
<rect x="303.95" y="201.8" width="1" height="1.0" fill="#2b2b2b"/>
<rect x="303.95" y="211.2" width="1" height="1.4" fill="#2b2b2b"/>
<rect x="303.00" y="202.8" width="2.9" height="8.4" fill="none" stroke="#1a1a1a" stroke-width="0.9"/>
<rect x="307.90" y="195.9" width="1" height="5.9" fill="#2b2b2b"/>
<rect x="307.90" y="204.3" width="1" height="6.4" fill="#2b2b2b"/>
<rect x="306.95" y="201.8" width="2.9" height="2.5" fill="none" stroke="#1a1a1a" stroke-width="0.9"/>
<rect x="311.84" y="198.8" width="1" height="10.9" fill="#2b2b2b"/>
<rect x="310.84" y="199.4" width="3" height="1.2" fill="#000"/>
<rect x="315.79" y="193.9" width="1" height="3.3" fill="#2b2b2b"/>
<rect x="315.79" y="199.8" width="1" height="11.8" fill="#2b2b2b"/>
<rect x="314.84" y="197.2" width="2.9" height="2.6" fill="none" stroke="#1a1a1a" stroke-width="0.9"/>
<rect x="319.74" y="196.8" width="1" height="17.8" fill="#2b2b2b"/>
<rect x="318.74" y="197.2" width="3" height="14.4" fill="#000"/>
<rect x="323.68" y="202.8" width="1" height="5.9" fill="#2b2b2b"/>
<rect x="323.68" y="211.6" width="1" height="7.9" fill="#2b2b2b"/>
<rect x="322.73" y="208.7" width="2.9" height="2.9" fill="none" stroke="#1a1a1a" stroke-width="0.9"/>
<rect x="327.63" y="207.7" width="1" height="23.7" fill="#2b2b2b"/>
<rect x="326.63" y="208.7" width="3" height="12.8" fill="#000"/>
<rect x="331.58" y="218.5" width="1" height="21.8" fill="#2b2b2b"/>
<rect x="330.58" y="219.0" width="3" height="18.9" fill="#000"/>
<rect x="335.52" y="230.4" width="1" height="3.9" fill="#2b2b2b"/>
<rect x="335.52" y="238.7" width="1" height="0.6" fill="#2b2b2b"/>
<rect x="334.57" y="234.3" width="2.9" height="4.4" fill="none" stroke="#1a1a1a" stroke-width="0.9"/>
<rect x="339.47" y="227.4" width="1" height="4.6" fill="#2b2b2b"/>
<rect x="339.47" y="235.3" width="1" height="17.8" fill="#2b2b2b"/>
<rect x="338.52" y="232.0" width="2.9" height="3.3" fill="none" stroke="#1a1a1a" stroke-width="0.9"/>
<rect x="343.42" y="228.6" width="1" height="17.8" fill="#2b2b2b"/>
<rect x="342.42" y="232.2" width="3" height="4.9" fill="#000"/>
<rect x="347.37" y="223.7" width="1" height="9.5" fill="#2b2b2b"/>
<rect x="347.37" y="237.9" width="1" height="0.6" fill="#2b2b2b"/>
<rect x="346.42" y="233.2" width="2.9" height="4.7" fill="none" stroke="#1a1a1a" stroke-width="0.9"/>
<rect x="351.31" y="217.4" width="1" height="3.9" fill="#2b2b2b"/>
<rect x="351.31" y="225.7" width="1" height="3.5" fill="#2b2b2b"/>
<rect x="350.36" y="221.3" width="2.9" height="4.4" fill="none" stroke="#1a1a1a" stroke-width="0.9"/>
<rect x="355.26" y="213.8" width="1" height="0.4" fill="#2b2b2b"/>
<rect x="355.26" y="224.7" width="1" height="0.6" fill="#2b2b2b"/>
<rect x="354.31" y="214.2" width="2.9" height="10.5" fill="none" stroke="#1a1a1a" stroke-width="0.9"/>
<rect x="359.21" y="207.9" width="1" height="8.9" fill="#2b2b2b"/>
<rect x="358.21" y="212.8" width="3" height="2.0" fill="#000"/>
<rect x="363.15" y="209.9" width="1" height="15.8" fill="#2b2b2b"/>
<rect x="362.15" y="215.4" width="3" height="9.9" fill="#000"/>
<rect x="367.10" y="224.7" width="1" height="6.9" fill="#2b2b2b"/>
<rect x="366.10" y="225.7" width="3" height="1.2" fill="#000"/>
<rect x="371.05" y="223.3" width="1" height="19.7" fill="#2b2b2b"/>
<rect x="370.05" y="225.7" width="3" height="16.7" fill="#000"/>
<rect x="375.00" y="235.5" width="1" height="5.0" fill="#2b2b2b"/>
<rect x="375.00" y="243.0" width="1" height="3.4" fill="#2b2b2b"/>
<rect x="374.05" y="240.5" width="2.9" height="2.5" fill="none" stroke="#1a1a1a" stroke-width="0.9"/>
<rect x="378.94" y="239.5" width="1" height="19.7" fill="#2b2b2b"/>
<rect x="377.94" y="240.5" width="3" height="6.9" fill="#000"/>
<rect x="382.89" y="245.4" width="1" height="30.6" fill="#2b2b2b"/>
<rect x="381.89" y="247.0" width="3" height="1.2" fill="#000"/>
<rect x="386.84" y="247.4" width="1" height="16.7" fill="#2b2b2b"/>
<rect x="385.84" y="247.4" width="3" height="10.8" fill="#000"/>
<rect x="390.78" y="253.3" width="1" height="30.6" fill="#2b2b2b"/>
<rect x="389.78" y="257.2" width="3" height="25.7" fill="#000"/>
<rect x="394.73" y="260.2" width="1" height="4.8" fill="#2b2b2b"/>
<rect x="394.73" y="282.7" width="1" height="26.8" fill="#2b2b2b"/>
<rect x="393.78" y="265.0" width="2.9" height="17.7" fill="none" stroke="#1a1a1a" stroke-width="0.9"/>
<rect x="398.68" y="253.5" width="1" height="27.0" fill="#2b2b2b"/>
<rect x="397.68" y="262.5" width="3" height="11.8" fill="#000"/>
<rect x="402.62" y="270.0" width="1" height="15.1" fill="#2b2b2b"/>
<rect x="401.62" y="272.7" width="3" height="1.2" fill="#000"/>
<rect x="406.57" y="267.4" width="1" height="2.6" fill="#2b2b2b"/>
<rect x="406.57" y="273.3" width="1" height="6.6" fill="#2b2b2b"/>
<rect x="405.62" y="270.0" width="2.9" height="3.3" fill="none" stroke="#1a1a1a" stroke-width="0.9"/>
<rect x="410.52" y="248.4" width="1" height="5.0" fill="#2b2b2b"/>
<rect x="410.52" y="264.4" width="1" height="5.0" fill="#2b2b2b"/>
<rect x="409.57" y="253.4" width="2.9" height="11.0" fill="none" stroke="#1a1a1a" stroke-width="0.9"/>
<rect x="414.47" y="253.0" width="1" height="21.6" fill="#2b2b2b"/>
<rect x="413.47" y="253.0" width="3" height="9.6" fill="#000"/>
<rect x="418.41" y="256.3" width="1" height="4.2" fill="#2b2b2b"/>
<rect x="418.41" y="262.8" width="1" height="0.7" fill="#2b2b2b"/>
<rect x="417.46" y="260.5" width="2.9" height="2.3" fill="none" stroke="#1a1a1a" stroke-width="0.9"/>
<rect x="422.36" y="249.7" width="1" height="23.6" fill="#2b2b2b"/>
<rect x="421.36" y="258.2" width="3" height="4.0" fill="#000"/>
<rect x="426.31" y="259.5" width="1" height="32.2" fill="#2b2b2b"/>
<rect x="425.31" y="262.2" width="3" height="9.2" fill="#000"/>
<rect x="430.25" y="266.8" width="1" height="0.6" fill="#2b2b2b"/>
<rect x="430.25" y="270.0" width="1" height="8.6" fill="#2b2b2b"/>
<rect x="429.30" y="267.4" width="2.9" height="2.6" fill="none" stroke="#1a1a1a" stroke-width="0.9"/>
<rect x="434.20" y="260.9" width="1" height="12.4" fill="#2b2b2b"/>
<rect x="433.20" y="265.2" width="3" height="1.2" fill="#000"/>
<rect x="438.15" y="253.0" width="1" height="3.9" fill="#2b2b2b"/>
<rect x="438.15" y="265.4" width="1" height="7.3" fill="#2b2b2b"/>
<rect x="437.20" y="256.9" width="2.9" height="8.5" fill="none" stroke="#1a1a1a" stroke-width="0.9"/>
<rect x="442.09" y="256.3" width="1" height="12.7" fill="#2b2b2b"/>
<rect x="441.09" y="256.3" width="3" height="8.9" fill="#000"/>
<rect x="446.04" y="262.2" width="1" height="17.7" fill="#2b2b2b"/>
<rect x="445.04" y="264.4" width="3" height="5.6" fill="#000"/>
<rect x="449.99" y="267.8" width="1" height="5.7" fill="#2b2b2b"/>
<rect x="448.99" y="268.8" width="3" height="3.4" fill="#000"/>
<rect x="453.94" y="270.0" width="1" height="8.7" fill="#2b2b2b"/>
<rect x="452.94" y="272.4" width="3" height="1.2" fill="#000"/>
<rect x="457.88" y="267.2" width="1" height="0.6" fill="#2b2b2b"/>
<rect x="457.88" y="272.4" width="1" height="9.2" fill="#2b2b2b"/>
<rect x="456.93" y="267.8" width="2.9" height="4.6" fill="none" stroke="#1a1a1a" stroke-width="0.9"/>
<rect x="461.83" y="265.5" width="1" height="20.1" fill="#2b2b2b"/>
<rect x="460.83" y="267.8" width="3" height="9.7" fill="#000"/>
<rect x="465.78" y="271.8" width="1" height="11.5" fill="#2b2b2b"/>
<rect x="464.78" y="275.2" width="3" height="5.2" fill="#000"/>
<rect x="469.72" y="273.5" width="1" height="0.6" fill="#2b2b2b"/>
<rect x="469.72" y="279.3" width="1" height="0.5" fill="#2b2b2b"/>
<rect x="468.77" y="274.1" width="2.9" height="5.2" fill="none" stroke="#1a1a1a" stroke-width="0.9"/>
<rect x="473.67" y="275.2" width="1" height="8.7" fill="#2b2b2b"/>
<rect x="472.67" y="276.1" width="3" height="2.6" fill="#000"/>
<rect x="477.62" y="276.4" width="1" height="4.0" fill="#2b2b2b"/>
<rect x="476.62" y="277.0" width="3" height="2.8" fill="#000"/>
<rect x="481.56" y="274.7" width="1" height="1.1" fill="#2b2b2b"/>
<rect x="481.56" y="279.3" width="1" height="7.4" fill="#2b2b2b"/>
<rect x="480.61" y="275.8" width="2.9" height="3.5" fill="none" stroke="#1a1a1a" stroke-width="0.9"/>
<rect x="485.51" y="269.5" width="1" height="2.9" fill="#2b2b2b"/>
<rect x="485.51" y="275.2" width="1" height="0.6" fill="#2b2b2b"/>
<rect x="484.56" y="272.4" width="2.9" height="2.8" fill="none" stroke="#1a1a1a" stroke-width="0.9"/>
<rect x="489.46" y="255.1" width="1" height="0.4" fill="#2b2b2b"/>
<rect x="489.46" y="272.4" width="1" height="0.6" fill="#2b2b2b"/>
<rect x="488.51" y="255.5" width="2.9" height="16.9" fill="none" stroke="#1a1a1a" stroke-width="0.9"/>
<rect x="493.41" y="243.0" width="1" height="4.1" fill="#2b2b2b"/>
<rect x="493.41" y="255.7" width="1" height="0.6" fill="#2b2b2b"/>
<rect x="492.46" y="247.1" width="2.9" height="8.6" fill="none" stroke="#1a1a1a" stroke-width="0.9"/>
<rect x="497.35" y="243.6" width="1" height="9.8" fill="#2b2b2b"/>
<rect x="496.35" y="245.9" width="3" height="4.0" fill="#000"/>
<rect x="501.30" y="243.5" width="1" height="21.7" fill="#2b2b2b"/>
<rect x="500.30" y="250.2" width="3" height="9.8" fill="#000"/>
<rect x="505.25" y="254.7" width="1" height="0.8" fill="#2b2b2b"/>
<rect x="505.25" y="261.2" width="1" height="1.4" fill="#2b2b2b"/>
<rect x="504.30" y="255.5" width="2.9" height="5.7" fill="none" stroke="#1a1a1a" stroke-width="0.9"/>
<rect x="509.19" y="252.2" width="1" height="5.5" fill="#2b2b2b"/>
<rect x="508.19" y="255.5" width="3" height="1.2" fill="#000"/>
<rect x="513.14" y="253.7" width="1" height="5.0" fill="#2b2b2b"/>
<rect x="512.14" y="255.7" width="3" height="1.2" fill="#000"/>
<rect x="517.09" y="255.7" width="1" height="3.4" fill="#2b2b2b"/>
<rect x="516.09" y="256.2" width="3" height="2.9" fill="#000"/>
<rect x="521.03" y="256.2" width="1" height="5.4" fill="#2b2b2b"/>
<rect x="520.03" y="258.4" width="3" height="1.2" fill="#000"/>
<rect x="524.98" y="258.1" width="1" height="4.0" fill="#2b2b2b"/>
<rect x="523.98" y="259.1" width="3" height="1.2" fill="#000"/>
<rect x="528.93" y="258.6" width="1" height="11.9" fill="#2b2b2b"/>
<rect x="527.93" y="260.1" width="3" height="7.4" fill="#000"/>
<rect x="532.88" y="264.6" width="1" height="12.3" fill="#2b2b2b"/>
<rect x="531.88" y="268.0" width="3" height="8.9" fill="#000"/>
<rect x="536.82" y="265.0" width="1" height="4.0" fill="#2b2b2b"/>
<rect x="535.87" y="269.0" width="2.9" height="7.4" fill="none" stroke="#1a1a1a" stroke-width="0.9"/>
<rect x="540.77" y="269.0" width="1" height="5.4" fill="#2b2b2b"/>
<rect x="539.77" y="269.0" width="3" height="3.9" fill="#000"/>
<rect x="544.72" y="269.5" width="1" height="0.5" fill="#2b2b2b"/>
<rect x="544.72" y="272.4" width="1" height="2.0" fill="#2b2b2b"/>
<rect x="543.77" y="270.0" width="2.9" height="2.4" fill="none" stroke="#1a1a1a" stroke-width="0.9"/>
<rect x="548.66" y="258.6" width="1" height="5.4" fill="#2b2b2b"/>
<rect x="548.66" y="269.5" width="1" height="1.5" fill="#2b2b2b"/>
<rect x="547.71" y="264.0" width="2.9" height="5.5" fill="none" stroke="#1a1a1a" stroke-width="0.9"/>
<rect x="552.61" y="254.2" width="1" height="4.5" fill="#2b2b2b"/>
<rect x="552.61" y="264.2" width="1" height="0.4" fill="#2b2b2b"/>
<rect x="551.66" y="258.7" width="2.9" height="5.5" fill="none" stroke="#1a1a1a" stroke-width="0.9"/>
<rect x="556.56" y="258.0" width="1" height="4.8" fill="#2b2b2b"/>
<rect x="555.56" y="258.8" width="3" height="3.3" fill="#000"/>
<rect x="560.50" y="247.3" width="1" height="2.5" fill="#2b2b2b"/>
<rect x="559.55" y="249.8" width="2.9" height="14.0" fill="none" stroke="#1a1a1a" stroke-width="0.9"/>
<rect x="564.45" y="249.0" width="1" height="11.5" fill="#2b2b2b"/>
<rect x="563.45" y="249.3" width="3" height="9.5" fill="#000"/>
<rect x="568.40" y="258.0" width="1" height="9.1" fill="#2b2b2b"/>
<rect x="567.40" y="258.5" width="3" height="2.8" fill="#000"/>
<rect x="572.35" y="249.8" width="1" height="7.4" fill="#2b2b2b"/>
<rect x="572.35" y="261.3" width="1" height="0.8" fill="#2b2b2b"/>
<rect x="571.39" y="257.2" width="2.9" height="4.1" fill="none" stroke="#1a1a1a" stroke-width="0.9"/>
<rect x="576.29" y="256.4" width="1" height="11.5" fill="#2b2b2b"/>
<rect x="575.29" y="257.2" width="3" height="2.5" fill="#000"/>
<rect x="580.24" y="254.7" width="1" height="10.7" fill="#2b2b2b"/>
<rect x="579.24" y="255.6" width="3" height="1.6" fill="#000"/>
<rect x="584.19" y="242.4" width="1" height="2.5" fill="#2b2b2b"/>
<rect x="584.19" y="255.6" width="1" height="4.9" fill="#2b2b2b"/>
<rect x="583.24" y="244.9" width="2.9" height="10.7" fill="none" stroke="#1a1a1a" stroke-width="0.9"/>
<rect x="588.13" y="226.0" width="1" height="4.9" fill="#2b2b2b"/>
<rect x="588.13" y="244.0" width="1" height="0.9" fill="#2b2b2b"/>
<rect x="587.18" y="230.9" width="2.9" height="13.1" fill="none" stroke="#1a1a1a" stroke-width="0.9"/>
<rect x="592.08" y="221.9" width="1" height="2.4" fill="#2b2b2b"/>
<rect x="592.08" y="230.9" width="1" height="3.3" fill="#2b2b2b"/>
<rect x="591.13" y="224.3" width="2.9" height="6.6" fill="none" stroke="#1a1a1a" stroke-width="0.9"/>
<rect x="596.03" y="207.9" width="1" height="9.0" fill="#2b2b2b"/>
<rect x="596.03" y="224.3" width="1" height="3.3" fill="#2b2b2b"/>
<rect x="595.08" y="216.9" width="2.9" height="7.4" fill="none" stroke="#1a1a1a" stroke-width="0.9"/>
<rect x="599.97" y="206.2" width="1" height="0.8" fill="#2b2b2b"/>
<rect x="599.97" y="218.6" width="1" height="4.1" fill="#2b2b2b"/>
<rect x="599.02" y="207.0" width="2.9" height="11.6" fill="none" stroke="#1a1a1a" stroke-width="0.9"/>
<rect x="603.92" y="190.0" width="1" height="0.6" fill="#2b2b2b"/>
<rect x="603.92" y="206.5" width="1" height="0.5" fill="#2b2b2b"/>
<rect x="602.97" y="190.6" width="2.9" height="15.9" fill="none" stroke="#1a1a1a" stroke-width="0.9"/>
<rect x="607.87" y="189.8" width="1" height="18.8" fill="#2b2b2b"/>
<rect x="606.87" y="190.6" width="3" height="10.7" fill="#000"/>
<rect x="611.82" y="201.3" width="1" height="16.3" fill="#2b2b2b"/>
<rect x="610.82" y="201.3" width="3" height="14.5" fill="#000"/>
<rect x="615.76" y="200.4" width="1" height="4.6" fill="#2b2b2b"/>
<rect x="615.76" y="214.0" width="1" height="4.5" fill="#2b2b2b"/>
<rect x="614.81" y="205.0" width="2.9" height="9.0" fill="none" stroke="#1a1a1a" stroke-width="0.9"/>
<rect x="619.71" y="203.2" width="1" height="6.3" fill="#2b2b2b"/>
<rect x="618.71" y="204.0" width="3" height="4.2" fill="#000"/>
<rect x="623.66" y="194.1" width="1" height="3.3" fill="#2b2b2b"/>
<rect x="623.66" y="208.6" width="1" height="3.6" fill="#2b2b2b"/>
<rect x="622.71" y="197.4" width="2.9" height="11.2" fill="none" stroke="#1a1a1a" stroke-width="0.9"/>
<rect x="627.60" y="183.3" width="1" height="3.6" fill="#2b2b2b"/>
<rect x="627.60" y="195.0" width="1" height="2.7" fill="#2b2b2b"/>
<rect x="626.65" y="186.9" width="2.9" height="8.1" fill="none" stroke="#1a1a1a" stroke-width="0.9"/>
<rect x="631.55" y="167.0" width="1" height="19.0" fill="#2b2b2b"/>
<rect x="630.55" y="183.6" width="3" height="1.4" fill="#000"/>
<rect x="635.50" y="173.3" width="1" height="19.9" fill="#2b2b2b"/>
<rect x="634.50" y="184.2" width="3" height="3.6" fill="#000"/>
<rect x="639.44" y="176.9" width="1" height="49.7" fill="#2b2b2b"/>
<rect x="638.44" y="184.2" width="3" height="24.4" fill="#000"/>
<rect x="643.39" y="182.4" width="1" height="5.9" fill="#2b2b2b"/>
<rect x="643.39" y="205.8" width="1" height="2.8" fill="#2b2b2b"/>
<rect x="642.44" y="188.3" width="2.9" height="17.5" fill="none" stroke="#1a1a1a" stroke-width="0.9"/>
<rect x="647.34" y="172.5" width="1" height="0.8" fill="#2b2b2b"/>
<rect x="647.34" y="187.8" width="1" height="2.7" fill="#2b2b2b"/>
<rect x="646.39" y="173.3" width="2.9" height="14.5" fill="none" stroke="#1a1a1a" stroke-width="0.9"/>
<rect x="651.28" y="141.7" width="1" height="6.3" fill="#2b2b2b"/>
<rect x="651.28" y="173.3" width="1" height="0.9" fill="#2b2b2b"/>
<rect x="650.33" y="148.0" width="2.9" height="25.3" fill="none" stroke="#1a1a1a" stroke-width="0.9"/>
<rect x="655.23" y="125.8" width="1" height="26.6" fill="#2b2b2b"/>
<rect x="654.23" y="148.3" width="3" height="1.2" fill="#000"/>
<rect x="659.18" y="132.5" width="1" height="5.9" fill="#2b2b2b"/>
<rect x="659.18" y="147.2" width="1" height="0.8" fill="#2b2b2b"/>
<rect x="658.23" y="138.4" width="2.9" height="8.8" fill="none" stroke="#1a1a1a" stroke-width="0.9"/>
<rect x="663.13" y="135.4" width="1" height="22.2" fill="#2b2b2b"/>
<rect x="662.13" y="136.2" width="3" height="10.3" fill="#000"/>
<rect x="667.07" y="139.8" width="1" height="26.7" fill="#2b2b2b"/>
<rect x="666.07" y="145.8" width="3" height="16.2" fill="#000"/>
<rect x="671.02" y="122.1" width="1" height="0.8" fill="#2b2b2b"/>
<rect x="671.02" y="160.5" width="1" height="0.8" fill="#2b2b2b"/>
<rect x="670.07" y="122.9" width="2.9" height="37.6" fill="none" stroke="#1a1a1a" stroke-width="0.9"/>
<rect x="674.97" y="120.6" width="1" height="0.5" fill="#2b2b2b"/>
<rect x="674.97" y="123.6" width="1" height="13.3" fill="#2b2b2b"/>
<rect x="674.02" y="121.1" width="2.9" height="2.5" fill="none" stroke="#1a1a1a" stroke-width="0.9"/>
<rect x="678.91" y="110.3" width="1" height="5.9" fill="#2b2b2b"/>
<rect x="678.91" y="121.4" width="1" height="0.7" fill="#2b2b2b"/>
<rect x="677.96" y="116.2" width="2.9" height="5.2" fill="none" stroke="#1a1a1a" stroke-width="0.9"/>
<rect x="682.86" y="103.6" width="1" height="30.3" fill="#2b2b2b"/>
<rect x="681.86" y="114.3" width="3" height="9.3" fill="#000"/>
<rect x="686.81" y="114.7" width="1" height="17.8" fill="#2b2b2b"/>
<rect x="685.81" y="119.9" width="3" height="1.2" fill="#000"/>
<rect x="690.75" y="115.5" width="1" height="2.6" fill="#2b2b2b"/>
<rect x="690.75" y="120.2" width="1" height="8.6" fill="#2b2b2b"/>
<rect x="689.80" y="118.1" width="2.9" height="2.1" fill="none" stroke="#1a1a1a" stroke-width="0.9"/>
<rect x="694.70" y="115.5" width="1" height="12.5" fill="#2b2b2b"/>
<rect x="693.70" y="116.2" width="3" height="1.2" fill="#000"/>
<rect x="698.65" y="112.5" width="1" height="1.5" fill="#2b2b2b"/>
<rect x="698.65" y="116.2" width="1" height="8.1" fill="#2b2b2b"/>
<rect x="697.70" y="114.0" width="2.9" height="2.2" fill="none" stroke="#1a1a1a" stroke-width="0.9"/>
<rect x="702.60" y="115.5" width="1" height="12.5" fill="#2b2b2b"/>
<rect x="701.60" y="116.2" width="3" height="11.1" fill="#000"/>
<rect x="706.54" y="118.4" width="1" height="2.4" fill="#2b2b2b"/>
<rect x="706.54" y="126.3" width="1" height="1.7" fill="#2b2b2b"/>
<rect x="705.59" y="120.8" width="2.9" height="5.5" fill="none" stroke="#1a1a1a" stroke-width="0.9"/>
<rect x="710.49" y="105.3" width="1" height="1.3" fill="#2b2b2b"/>
<rect x="710.49" y="119.0" width="1" height="3.5" fill="#2b2b2b"/>
<rect x="709.54" y="106.6" width="2.9" height="12.4" fill="none" stroke="#1a1a1a" stroke-width="0.9"/>
<rect x="714.44" y="87.6" width="1" height="5.2" fill="#2b2b2b"/>
<rect x="714.44" y="107.2" width="1" height="10.9" fill="#2b2b2b"/>
<rect x="713.49" y="92.8" width="2.9" height="14.4" fill="none" stroke="#1a1a1a" stroke-width="0.9"/>
<rect x="718.38" y="87.6" width="1" height="20.7" fill="#2b2b2b"/>
<rect x="717.38" y="91.1" width="3" height="12.6" fill="#000"/>
<rect x="722.33" y="100.9" width="1" height="9.7" fill="#2b2b2b"/>
<rect x="721.33" y="104.3" width="3" height="3.5" fill="#000"/>
<rect x="726.28" y="97.4" width="1" height="1.2" fill="#2b2b2b"/>
<rect x="726.28" y="105.5" width="1" height="9.2" fill="#2b2b2b"/>
<rect x="725.33" y="98.6" width="2.9" height="6.9" fill="none" stroke="#1a1a1a" stroke-width="0.9"/>
<rect x="730.23" y="97.4" width="1" height="25.9" fill="#2b2b2b"/>
<rect x="729.23" y="98.6" width="3" height="4.6" fill="#000"/>
<rect x="734.17" y="88.2" width="1" height="1.8" fill="#2b2b2b"/>
<rect x="734.17" y="101.4" width="1" height="13.3" fill="#2b2b2b"/>
<rect x="733.22" y="90.0" width="2.9" height="11.4" fill="none" stroke="#1a1a1a" stroke-width="0.9"/>
<rect x="738.12" y="82.5" width="1" height="24.7" fill="#2b2b2b"/>
<rect x="737.12" y="90.0" width="3" height="16.6" fill="#000"/>
<rect x="742.07" y="99.7" width="1" height="4.0" fill="#2b2b2b"/>
<rect x="742.07" y="107.8" width="1" height="6.3" fill="#2b2b2b"/>
<rect x="741.12" y="103.7" width="2.9" height="4.1" fill="none" stroke="#1a1a1a" stroke-width="0.9"/>
<rect x="746.01" y="99.1" width="1" height="22.5" fill="#2b2b2b"/>
<rect x="745.01" y="101.7" width="3" height="18.1" fill="#000"/>
<rect x="749.96" y="108.9" width="1" height="2.3" fill="#2b2b2b"/>
<rect x="749.96" y="118.7" width="1" height="10.3" fill="#2b2b2b"/>
<rect x="749.01" y="111.2" width="2.9" height="7.5" fill="none" stroke="#1a1a1a" stroke-width="0.9"/>
<rect x="753.91" y="99.1" width="1" height="16.7" fill="#2b2b2b"/>
<rect x="752.91" y="110.0" width="3" height="5.2" fill="#000"/>
<rect x="757.85" y="110.6" width="1" height="27.6" fill="#2b2b2b"/>
<rect x="756.85" y="114.9" width="3" height="20.1" fill="#000"/>
<rect x="761.80" y="114.8" width="1" height="2.1" fill="#2b2b2b"/>
<rect x="761.80" y="135.4" width="1" height="1.1" fill="#2b2b2b"/>
<rect x="760.85" y="116.9" width="2.9" height="18.5" fill="none" stroke="#1a1a1a" stroke-width="0.9"/>
<rect x="765.75" y="107.2" width="1" height="15.5" fill="#2b2b2b"/>
<rect x="764.75" y="116.5" width="3" height="1.2" fill="#000"/>
<rect x="769.70" y="107.2" width="1" height="12.3" fill="#2b2b2b"/>
<rect x="768.70" y="115.2" width="3" height="1.2" fill="#000"/>
<rect x="773.64" y="103.0" width="1" height="14.9" fill="#2b2b2b"/>
<rect x="772.64" y="115.0" width="3" height="1.2" fill="#000"/>
<rect x="777.59" y="114.2" width="1" height="9.0" fill="#2b2b2b"/>
<rect x="776.59" y="115.2" width="3" height="5.4" fill="#000"/>
<rect x="781.54" y="117.4" width="1" height="10.1" fill="#2b2b2b"/>
<rect x="780.54" y="118.5" width="3" height="1.2" fill="#000"/>
<rect x="785.48" y="109.4" width="1" height="3.9" fill="#2b2b2b"/>
<rect x="785.48" y="118.2" width="1" height="4.5" fill="#2b2b2b"/>
<rect x="784.53" y="113.3" width="2.9" height="4.9" fill="none" stroke="#1a1a1a" stroke-width="0.9"/>
<rect x="789.43" y="99.8" width="1" height="1.6" fill="#2b2b2b"/>
<rect x="789.43" y="113.6" width="1" height="0.6" fill="#2b2b2b"/>
<rect x="788.48" y="101.4" width="2.9" height="12.2" fill="none" stroke="#1a1a1a" stroke-width="0.9"/>
<rect x="793.38" y="92.8" width="1" height="9.1" fill="#2b2b2b"/>
<rect x="792.38" y="100.3" width="3" height="1.2" fill="#000"/>
<rect x="797.32" y="99.0" width="1" height="15.2" fill="#2b2b2b"/>
<rect x="796.32" y="99.0" width="3" height="9.3" fill="#000"/>
<rect x="801.27" y="107.2" width="1" height="13.9" fill="#2b2b2b"/>
<rect x="800.27" y="108.0" width="3" height="1.2" fill="#000"/>
<rect x="805.22" y="105.1" width="1" height="13.3" fill="#2b2b2b"/>
<rect x="804.22" y="108.8" width="3" height="4.8" fill="#000"/>
<rect x="809.16" y="111.5" width="1" height="16.0" fill="#2b2b2b"/>
<rect x="808.16" y="112.9" width="3" height="12.5" fill="#000"/>
<rect x="813.11" y="111.5" width="1" height="8.0" fill="#2b2b2b"/>
<rect x="813.11" y="125.1" width="1" height="1.7" fill="#2b2b2b"/>
<rect x="812.16" y="119.5" width="2.9" height="5.6" fill="none" stroke="#1a1a1a" stroke-width="0.9"/>
<rect x="817.06" y="115.8" width="1" height="8.5" fill="#2b2b2b"/>
<rect x="816.06" y="118.4" width="3" height="1.3" fill="#000"/>
<rect x="821.01" y="116.3" width="1" height="16.0" fill="#2b2b2b"/>
<rect x="820.01" y="116.8" width="3" height="1.6" fill="#000"/>
<rect x="824.95" y="111.0" width="1" height="10.1" fill="#2b2b2b"/>
<rect x="823.95" y="117.2" width="3" height="1.2" fill="#000"/>
<rect x="828.90" y="115.2" width="1" height="12.3" fill="#2b2b2b"/>
<rect x="827.90" y="116.8" width="3" height="10.7" fill="#000"/>
<rect x="832.85" y="107.2" width="1" height="1.1" fill="#2b2b2b"/>
<rect x="832.85" y="127.0" width="1" height="0.5" fill="#2b2b2b"/>
<rect x="831.90" y="108.3" width="2.9" height="18.7" fill="none" stroke="#1a1a1a" stroke-width="0.9"/>
<rect x="836.79" y="101.9" width="1" height="10.1" fill="#2b2b2b"/>
<rect x="835.79" y="108.0" width="3" height="1.2" fill="#000"/>
<rect x="840.74" y="105.1" width="1" height="17.6" fill="#2b2b2b"/>
<rect x="839.74" y="108.8" width="3" height="13.7" fill="#000"/>
<rect x="844.69" y="114.2" width="1" height="11.2" fill="#2b2b2b"/>
<rect x="843.69" y="121.1" width="3" height="3.7" fill="#000"/>
<rect x="848.63" y="122.7" width="1" height="17.1" fill="#2b2b2b"/>
<rect x="847.63" y="123.2" width="3" height="1.2" fill="#000"/>
<rect x="852.58" y="124.3" width="1" height="13.3" fill="#2b2b2b"/>
<rect x="851.58" y="124.8" width="3" height="5.9" fill="#000"/>
<rect x="856.53" y="114.2" width="1" height="8.0" fill="#2b2b2b"/>
<rect x="856.53" y="130.2" width="1" height="0.5" fill="#2b2b2b"/>
<rect x="855.58" y="122.2" width="2.9" height="8.0" fill="none" stroke="#1a1a1a" stroke-width="0.9"/>
<rect x="860.48" y="117.9" width="1" height="12.3" fill="#2b2b2b"/>
<rect x="859.48" y="121.1" width="3" height="1.2" fill="#000"/>
<rect x="864.42" y="113.9" width="1" height="4.1" fill="#2b2b2b"/>
<rect x="864.42" y="124.0" width="1" height="1.4" fill="#2b2b2b"/>
<rect x="863.47" y="118.0" width="2.9" height="6.0" fill="none" stroke="#1a1a1a" stroke-width="0.9"/>
<rect x="868.37" y="103.8" width="1" height="3.0" fill="#2b2b2b"/>
<rect x="868.37" y="116.2" width="1" height="0.6" fill="#2b2b2b"/>
<rect x="867.42" y="106.8" width="2.9" height="9.4" fill="none" stroke="#1a1a1a" stroke-width="0.9"/>
<rect x="872.32" y="108.6" width="1" height="14.4" fill="#2b2b2b"/>
<rect x="871.32" y="110.2" width="3" height="12.3" fill="#000"/>
<rect x="876.26" y="96.8" width="1" height="16.0" fill="#2b2b2b"/>
<rect x="876.26" y="121.4" width="1" height="4.6" fill="#2b2b2b"/>
<rect x="875.31" y="112.8" width="2.9" height="8.6" fill="none" stroke="#1a1a1a" stroke-width="0.9"/>
<rect x="880.21" y="93.6" width="1" height="4.3" fill="#2b2b2b"/>
<rect x="880.21" y="109.6" width="1" height="15.4" fill="#2b2b2b"/>
<rect x="879.26" y="97.9" width="2.9" height="11.7" fill="none" stroke="#1a1a1a" stroke-width="0.9"/>
<rect x="884.16" y="78.7" width="1" height="11.7" fill="#2b2b2b"/>
<rect x="884.16" y="97.4" width="1" height="0.5" fill="#2b2b2b"/>
<rect x="883.21" y="90.4" width="2.9" height="7.0" fill="none" stroke="#1a1a1a" stroke-width="0.9"/>
<rect x="888.11" y="81.9" width="1" height="12.8" fill="#2b2b2b"/>
<rect x="887.11" y="89.7" width="3" height="1.8" fill="#000"/>
<rect x="892.05" y="72.8" width="1" height="1.1" fill="#2b2b2b"/>
<rect x="892.05" y="89.4" width="1" height="1.0" fill="#2b2b2b"/>
<rect x="891.10" y="73.9" width="2.9" height="15.5" fill="none" stroke="#1a1a1a" stroke-width="0.9"/>
<rect x="896.00" y="65.9" width="1" height="18.7" fill="#2b2b2b"/>
<rect x="895.00" y="73.3" width="3" height="1.7" fill="#000"/>
<rect x="899.95" y="69.0" width="1" height="19.3" fill="#2b2b2b"/>
<rect x="898.95" y="72.8" width="3" height="12.8" fill="#000"/>
<rect x="903.89" y="74.4" width="1" height="4.8" fill="#2b2b2b"/>
<rect x="903.89" y="86.7" width="1" height="0.5" fill="#2b2b2b"/>
<rect x="902.94" y="79.2" width="2.9" height="7.5" fill="none" stroke="#1a1a1a" stroke-width="0.9"/>
<circle cx="280.6" cy="497.8" r="5.9" fill="#fff" stroke="#3a66f5" stroke-width="1.5"/>
<g transform="translate(280.6,500.7) scale(0.95,1)"><text x="0" y="0" font-family="Liberation Sans, sans-serif" font-size="8" fill="#3a66f5" text-anchor="middle">D</text></g>
<circle cx="324.4" cy="497.8" r="5.9" fill="#fff" stroke="#3a66f5" stroke-width="1.5"/>
<g transform="translate(324.4,500.7) scale(0.95,1)"><text x="0" y="0" font-family="Liberation Sans, sans-serif" font-size="8" fill="#3a66f5" text-anchor="middle">D</text></g>
<circle cx="371.1" cy="497.8" r="5.9" fill="#fff" stroke="#3a66f5" stroke-width="1.5"/>
<g transform="translate(371.1,500.7) scale(0.95,1)"><text x="0" y="0" font-family="Liberation Sans, sans-serif" font-size="8" fill="#3a66f5" text-anchor="middle">D</text></g>
<circle cx="419" cy="497.8" r="5.9" fill="#fff" stroke="#3a66f5" stroke-width="1.5"/>
<g transform="translate(419,500.7) scale(0.95,1)"><text x="0" y="0" font-family="Liberation Sans, sans-serif" font-size="8" fill="#3a66f5" text-anchor="middle">D</text></g>
<circle cx="466" cy="497.8" r="5.9" fill="#fff" stroke="#3a66f5" stroke-width="1.5"/>
<g transform="translate(466,500.7) scale(0.95,1)"><text x="0" y="0" font-family="Liberation Sans, sans-serif" font-size="8" fill="#3a66f5" text-anchor="middle">D</text></g>
<circle cx="513.5" cy="497.8" r="5.9" fill="#fff" stroke="#3a66f5" stroke-width="1.5"/>
<g transform="translate(513.5,500.7) scale(0.95,1)"><text x="0" y="0" font-family="Liberation Sans, sans-serif" font-size="8" fill="#3a66f5" text-anchor="middle">D</text></g>
<circle cx="561" cy="497.8" r="5.9" fill="#fff" stroke="#3a66f5" stroke-width="1.5"/>
<g transform="translate(561,500.7) scale(0.95,1)"><text x="0" y="0" font-family="Liberation Sans, sans-serif" font-size="8" fill="#3a66f5" text-anchor="middle">D</text></g>
<circle cx="604" cy="497.8" r="5.9" fill="#fff" stroke="#3a66f5" stroke-width="1.5"/>
<g transform="translate(604,500.7) scale(0.95,1)"><text x="0" y="0" font-family="Liberation Sans, sans-serif" font-size="8" fill="#3a66f5" text-anchor="middle">D</text></g>
<circle cx="651.6" cy="497.8" r="5.9" fill="#fff" stroke="#3a66f5" stroke-width="1.5"/>
<g transform="translate(651.6,500.7) scale(0.95,1)"><text x="0" y="0" font-family="Liberation Sans, sans-serif" font-size="8" fill="#3a66f5" text-anchor="middle">D</text></g>
<circle cx="698.7" cy="497.8" r="5.9" fill="#fff" stroke="#3a66f5" stroke-width="1.5"/>
<g transform="translate(698.7,500.7) scale(0.95,1)"><text x="0" y="0" font-family="Liberation Sans, sans-serif" font-size="8" fill="#3a66f5" text-anchor="middle">D</text></g>
<circle cx="749.5" cy="497.8" r="5.9" fill="#fff" stroke="#3a66f5" stroke-width="1.5"/>
<g transform="translate(749.5,500.7) scale(0.95,1)"><text x="0" y="0" font-family="Liberation Sans, sans-serif" font-size="8" fill="#3a66f5" text-anchor="middle">D</text></g>
<circle cx="793.4" cy="497.8" r="5.9" fill="#fff" stroke="#3a66f5" stroke-width="1.5"/>
<g transform="translate(793.4,500.7) scale(0.95,1)"><text x="0" y="0" font-family="Liberation Sans, sans-serif" font-size="8" fill="#3a66f5" text-anchor="middle">D</text></g>
<circle cx="841" cy="497.8" r="5.9" fill="#fff" stroke="#3a66f5" stroke-width="1.5"/>
<g transform="translate(841,500.7) scale(0.95,1)"><text x="0" y="0" font-family="Liberation Sans, sans-serif" font-size="8" fill="#3a66f5" text-anchor="middle">D</text></g>
<circle cx="888" cy="497.8" r="5.9" fill="#fff" stroke="#3a66f5" stroke-width="1.5"/>
<g transform="translate(888,500.7) scale(0.95,1)"><text x="0" y="0" font-family="Liberation Sans, sans-serif" font-size="8" fill="#3a66f5" text-anchor="middle">D</text></g>
<circle cx="750.5" cy="497.8" r="5.9" fill="#fff" stroke="#ff9a1a" stroke-width="1.5"/>
<g transform="translate(750.5,500.6) scale(0.9,1)"><text x="0" y="0" font-family="Liberation Sans, sans-serif" font-size="7.8" fill="#ff9a1a" text-anchor="middle" font-weight="bold">S</text></g>
<rect x="543.55" y="492.55" width="10.5" height="10.5" rx="1.8" fill="#fff" stroke="#5a5a5a" stroke-width="1.3"/>
<g transform="translate(548.8,500.8) scale(0.95,1)"><text x="0" y="0" font-family="Liberation Sans, sans-serif" font-size="8" fill="#3c3c3c" text-anchor="middle">E</text></g>
<rect x="563.55" y="492.55" width="10.5" height="10.5" rx="1.8" fill="#fff" stroke="#5a5a5a" stroke-width="1.3"/>
<g transform="translate(568.8,500.8) scale(0.95,1)"><text x="0" y="0" font-family="Liberation Sans, sans-serif" font-size="8" fill="#3c3c3c" text-anchor="middle">E</text></g>
<rect x="595.05" y="492.55" width="10.5" height="10.5" rx="1.8" fill="#fff" stroke="#5a5a5a" stroke-width="1.3"/>
<g transform="translate(600.3,500.8) scale(0.95,1)"><text x="0" y="0" font-family="Liberation Sans, sans-serif" font-size="8" fill="#3c3c3c" text-anchor="middle">E</text></g>
<rect x="610.75" y="492.55" width="10.5" height="10.5" rx="1.8" fill="#fff" stroke="#5a5a5a" stroke-width="1.3"/>
<g transform="translate(616,500.8) scale(0.95,1)"><text x="0" y="0" font-family="Liberation Sans, sans-serif" font-size="8" fill="#3c3c3c" text-anchor="middle">E</text></g>
<rect x="638.45" y="492.55" width="10.5" height="10.5" rx="1.8" fill="#fff" stroke="#5a5a5a" stroke-width="1.3"/>
<g transform="translate(643.7,500.8) scale(0.95,1)"><text x="0" y="0" font-family="Liberation Sans, sans-serif" font-size="8" fill="#3c3c3c" text-anchor="middle">E</text></g>
<rect x="657.75" y="492.55" width="10.5" height="10.5" rx="1.8" fill="#fff" stroke="#5a5a5a" stroke-width="1.3"/>
<g transform="translate(663,500.8) scale(0.95,1)"><text x="0" y="0" font-family="Liberation Sans, sans-serif" font-size="8" fill="#3c3c3c" text-anchor="middle">E</text></g>
<rect x="682.15" y="492.55" width="10.5" height="10.5" rx="1.8" fill="#fff" stroke="#5a5a5a" stroke-width="1.3"/>
<g transform="translate(687.4,500.8) scale(0.95,1)"><text x="0" y="0" font-family="Liberation Sans, sans-serif" font-size="8" fill="#3c3c3c" text-anchor="middle">E</text></g>
<rect x="705.75" y="492.55" width="10.5" height="10.5" rx="1.8" fill="#fff" stroke="#5a5a5a" stroke-width="1.3"/>
<g transform="translate(711,500.8) scale(0.95,1)"><text x="0" y="0" font-family="Liberation Sans, sans-serif" font-size="8" fill="#3c3c3c" text-anchor="middle">E</text></g>
<rect x="732.75" y="492.55" width="10.5" height="10.5" rx="1.8" fill="#fff" stroke="#5a5a5a" stroke-width="1.3"/>
<g transform="translate(738,500.8) scale(0.95,1)"><text x="0" y="0" font-family="Liberation Sans, sans-serif" font-size="8" fill="#3c3c3c" text-anchor="middle">E</text></g>
<rect x="753.25" y="492.55" width="10.5" height="10.5" rx="1.8" fill="#fff" stroke="#5a5a5a" stroke-width="1.3"/>
<g transform="translate(758.5,500.8) scale(0.95,1)"><text x="0" y="0" font-family="Liberation Sans, sans-serif" font-size="8" fill="#3c3c3c" text-anchor="middle">E</text></g>
<rect x="780.65" y="492.55" width="10.5" height="10.5" rx="1.8" fill="#fff" stroke="#5a5a5a" stroke-width="1.3"/>
<g transform="translate(785.9,500.8) scale(0.95,1)"><text x="0" y="0" font-family="Liberation Sans, sans-serif" font-size="8" fill="#3c3c3c" text-anchor="middle">E</text></g>
<rect x="800.45" y="492.55" width="10.5" height="10.5" rx="1.8" fill="#fff" stroke="#5a5a5a" stroke-width="1.3"/>
<g transform="translate(805.7,500.8) scale(0.95,1)"><text x="0" y="0" font-family="Liberation Sans, sans-serif" font-size="8" fill="#3c3c3c" text-anchor="middle">E</text></g>
<rect x="827.55" y="492.55" width="10.5" height="10.5" rx="1.8" fill="#fff" stroke="#5a5a5a" stroke-width="1.3"/>
<g transform="translate(832.8,500.8) scale(0.95,1)"><text x="0" y="0" font-family="Liberation Sans, sans-serif" font-size="8" fill="#3c3c3c" text-anchor="middle">E</text></g>
<rect x="847.75" y="492.55" width="10.5" height="10.5" rx="1.8" fill="#fff" stroke="#5a5a5a" stroke-width="1.3"/>
<g transform="translate(853,500.8) scale(0.95,1)"><text x="0" y="0" font-family="Liberation Sans, sans-serif" font-size="8" fill="#3c3c3c" text-anchor="middle">E</text></g>
<rect x="875.35" y="492.55" width="10.5" height="10.5" rx="1.8" fill="#fff" stroke="#5a5a5a" stroke-width="1.3"/>
<g transform="translate(880.6,500.8) scale(0.95,1)"><text x="0" y="0" font-family="Liberation Sans, sans-serif" font-size="8" fill="#3c3c3c" text-anchor="middle">E</text></g>
<rect x="895.05" y="492.55" width="10.5" height="10.5" rx="1.8" fill="#fff" stroke="#5a5a5a" stroke-width="1.3"/>
<g transform="translate(900.3,500.8) scale(0.95,1)"><text x="0" y="0" font-family="Liberation Sans, sans-serif" font-size="8" fill="#3c3c3c" text-anchor="middle">E</text></g>
<rect x="926.3" y="492.4" width="11.6" height="11" rx="1.8" fill="#fff" stroke="#e040fb" stroke-width="1.3"/>
<rect x="925" y="495.4" width="2.6" height="5" fill="#fff"/>
<circle cx="926.4" cy="497.9" r="1.7" fill="#f3b6fd" stroke="#e85cfb" stroke-width="0.6"/>
<g transform="translate(932.2,500.9) scale(0.92,1)"><text x="0" y="0" font-family="Liberation Sans, sans-serif" font-size="8.2" fill="#e040fb" text-anchor="middle" font-weight="bold">E</text></g>
<text x="11.4" y="29" font-family="Liberation Sans, sans-serif" font-size="7.8" fill="#4a4d56" stroke="#4a4d56" stroke-width="0.1" textLength="87.6" lengthAdjust="spacingAndGlyphs">2G Energy AG · 1M · XETR</text>
<text x="103.6" y="29" font-family="Liberation Sans, sans-serif" font-size="7.8" fill="#4a4d56" stroke="#4a4d56" stroke-width="0.1" textLength="24" lengthAdjust="spacingAndGlyphs">O32.10</text>
<text x="132.5" y="29" font-family="Liberation Sans, sans-serif" font-size="7.8" fill="#4a4d56" stroke="#4a4d56" stroke-width="0.1" textLength="23.5" lengthAdjust="spacingAndGlyphs">H36.25</text>
<text x="161" y="29" font-family="Liberation Sans, sans-serif" font-size="7.8" fill="#4a4d56" stroke="#4a4d56" stroke-width="0.1" textLength="22.3" lengthAdjust="spacingAndGlyphs">L31.55</text>
<text x="188" y="29" font-family="Liberation Sans, sans-serif" font-size="7.8" fill="#4a4d56" stroke="#4a4d56" stroke-width="0.1" textLength="23" lengthAdjust="spacingAndGlyphs">C34.70</text>
<text x="216" y="29" font-family="Liberation Sans, sans-serif" font-size="7.8" fill="#3d404a" stroke="#3d404a" stroke-width="0.1" textLength="50" lengthAdjust="spacingAndGlyphs">+2.20 (+6.77%)</text>
<text x="11.4" y="39.7" font-family="Liberation Sans, sans-serif" font-size="7.8" fill="#6a6d78" stroke="#6a6d78" stroke-width="0.1" textLength="17.6" lengthAdjust="spacingAndGlyphs">VRVP</text>
<text x="33.3" y="39.7" font-family="Liberation Sans, sans-serif" font-size="7.8" fill="#c4c6cc" stroke="#c4c6cc" stroke-width="0.1" textLength="24.2" lengthAdjust="spacingAndGlyphs">63.89 K</text>
<text x="62.2" y="39.7" font-family="Liberation Sans, sans-serif" font-size="7.8" fill="#c4c6cc" stroke="#c4c6cc" stroke-width="0.1" textLength="24.5" lengthAdjust="spacingAndGlyphs">64.59 K</text>
<text x="91.7" y="39.7" font-family="Liberation Sans, sans-serif" font-size="7.8" fill="#30333d" stroke="#30333d" stroke-width="0.1" textLength="28" lengthAdjust="spacingAndGlyphs">128.49 K</text>
<text x="11.4" y="50.5" font-family="Liberation Sans, sans-serif" font-size="7.8" fill="#6a6d78" stroke="#6a6d78" stroke-width="0.1" textLength="9.9" lengthAdjust="spacingAndGlyphs">Vol</text>
<text x="26.5" y="50.5" font-family="Liberation Sans, sans-serif" font-size="7.8" fill="#26a69a" stroke="#26a69a" stroke-width="0.1" textLength="28.5" lengthAdjust="spacingAndGlyphs">274.84 K</text>
<text x="59.7" y="50.5" font-family="Liberation Sans, sans-serif" font-size="7.8" fill="#30333d" stroke="#30333d" stroke-width="0.1" textLength="27.9" lengthAdjust="spacingAndGlyphs">521.95 K</text>
<rect x="984.3" y="17.0" width="1.1" height="553.5" fill="#9598a1"/>
<rect x="6.3" y="553" width="1011" height="1" fill="#9598a1"/>
<rect x="6.5" y="506" width="977.8" height="0.8" fill="#e0e3eb"/>
<rect x="985.4" y="506" width="31.9" height="0.8" fill="#e0e3eb"/>
<rect x="6.3" y="520.4" width="978" height="24.6" fill="#f0ecf7"/>
<line x1="6.3" y1="520.4" x2="984" y2="520.4" stroke="#8a8a8a" stroke-width="0.8" stroke-dasharray="3.4,3.43"/>
<line x1="6.3" y1="545" x2="984" y2="545" stroke="#8a8a8a" stroke-width="0.8" stroke-dasharray="3.4,3.43"/>
<polyline points="94.9,547.4 98.8,548.4 102.7,548.0 106.6,545.5 110.5,545.5 114.4,546.0 118.9,547.0 122.2,543.5 126.1,538.2 130.0,539.6 133.9,538.2 138.8,533.7 142.7,531.4 146.6,531.4 149.6,533.7 154.5,526.5 157.4,526.1 162.3,526.5 167.1,522.6 169.1,520.6 174.0,522.2 177.9,519.3 181.8,517.3 185.7,517.3 189.6,517.1 193.5,525.5 197.0,521.0 201.3,525.5 205.2,528.5 209.1,526.9 214.0,522.2 217.9,517.7 220.9,515.4 224.8,514.8 229.1,514.4 233.6,516.7 237.5,519.3 240.8,514.8 244.7,519.7 248.2,519.7 252.1,518.7 256.4,512.8 259.9,512.2 263.8,511.9 268.1,524.9 271.6,523.6 275.5,522.6 279.5,523.2 283.4,521.2 287.3,525.5 290.0,527.5 293.9,526.5 298.8,524.0 303.7,522.0 308.6,521.6 312.5,520.6 315.8,520.1 319.3,527.5 324.2,526.5 331.4,535.7 338.8,534.3 342.7,534.9 347.0,534.3 352.5,529.8 356.4,528.1 359.3,528.5 363.8,532.4 367.1,533.0 371.6,536.9 375.5,536.3 379.5,538.2 382.8,538.2 386.7,540.8 391.2,544.1 395.5,539.6 399.4,540.8 403.3,540.8 406.8,540.2 410.7,535.3 415.0,537.2 418.9,536.3 422.4,536.7 426.7,538.8 430.6,537.6 434.5,537.2 438.4,534.3 442.3,536.9 446.2,537.8 450.2,538.2 454.1,538.2 458.0,536.3 461.9,539.2 465.8,539.6 469.7,536.9 473.6,538.2 477.5,538.2 481.4,537.2 485.3,535.7 490.0,529.0 493.9,526.1 497.8,527.9 501.7,531.8 505.6,530.4 509.5,530.4 513.4,530.8 517.3,531.8 521.2,532.2 525.2,532.8 529.1,535.7 533.4,538.8 537.3,535.3 541.2,536.7 545.1,534.7 548.6,532.4 552.9,530.0 556.8,532.0 560.7,527.1 564.2,531.4 568.1,532.0 572.4,530.4 576.3,531.4 580.2,529.8 584.1,525.1 588.0,520.6 592.0,518.7 595.9,516.7 599.8,513.8 603.7,511.3 608.2,519.3 612.1,525.5 616.0,523.2 619.9,524.6 623.8,521.6 627.7,519.7 631.0,518.7 635.5,521.6 639.4,529.4 643.3,524.6 647.2,521.2 651.1,516.4 655.6,516.4 658.9,514.8 662.9,520.6 667.3,525.5 671.2,518.1 675.2,517.3 679.1,517.1 683.4,520.3 687.3,519.7 690.0,519.3 693.9,520.0 698.2,518.5 702.9,524.9 706.8,523.2 710.4,520.0 714.1,517.2 717.9,522.5 722.2,524.3 726.5,522.1 730.4,524.3 734.0,520.6 737.7,527.1 742.0,526.8 746.3,531.8 750.2,530.1 754.0,531.4 758.3,535.4 762.6,531.4 767.3,531.4 772.7,531.1 778.1,532.4 782.4,532.2 786.3,529.6 789.9,526.4 793.6,526.4 797.4,529.6 801.7,530.3 805.6,532.2 809.2,535.4 813.5,533.3 818.5,533.3 822.8,532.2 825.4,532.9 829.2,536.1 832.9,529.2 837.2,529.6 841.5,534.4 845.8,534.6 849.4,535.0 853.3,536.7 857.2,533.5 861.4,533.3 864.5,531.8 868.3,527.9 872.6,533.5 876.5,530.1 880.1,526.0 883.8,523.6 887.7,523.2 892.0,519.3 895.8,519.3 900.1,525.3 903.8,523.8" fill="none" stroke="#a386dc" stroke-width="1.15"/>
<text x="11.7" y="518.7" font-family="Liberation Sans, sans-serif" font-size="8.2" fill="#6a6d78" textLength="9.4" lengthAdjust="spacingAndGlyphs">RSI</text>
<text x="26.1" y="518.7" font-family="Liberation Sans, sans-serif" font-size="8.2" fill="#7e57c2" textLength="19" lengthAdjust="spacingAndGlyphs">63.89</text>
<g transform="translate(990.3,41.4) scale(0.88,1)"><text x="0" y="0" font-family="Liberation Sans, sans-serif" font-size="7.9" fill="#a3a6ad">52.50</text></g>
<rect x="987.4" y="19.3" width="27.6" height="17.3" rx="3" fill="#fff" stroke="#eceef2" stroke-width="0.9"/>
<g transform="translate(999.8,31.0) scale(0.8,1)"><text x="0" y="0" font-family="Liberation Sans, sans-serif" font-size="8.4" fill="#3a3d46" text-anchor="middle">EUR</text></g>
<g transform="translate(990.3,61.8) scale(0.88,1)"><text x="0" y="0" font-family="Liberation Sans, sans-serif" font-size="7.9" fill="#50535c">42.50</text></g>
<g transform="translate(990.3,82.0) scale(0.88,1)"><text x="0" y="0" font-family="Liberation Sans, sans-serif" font-size="7.9" fill="#50535c">34.70</text></g>
<g transform="translate(990.3,100.5) scale(0.88,1)"><text x="0" y="0" font-family="Liberation Sans, sans-serif" font-size="7.9" fill="#50535c">28.50</text></g>
<g transform="translate(990.3,122.4) scale(0.88,1)"><text x="0" y="0" font-family="Liberation Sans, sans-serif" font-size="7.9" fill="#50535c">22.50</text></g>
<g transform="translate(990.3,141.7) scale(0.88,1)"><text x="0" y="0" font-family="Liberation Sans, sans-serif" font-size="7.9" fill="#50535c">18.50</text></g>
<g transform="translate(990.3,164.6) scale(0.88,1)"><text x="0" y="0" font-family="Liberation Sans, sans-serif" font-size="7.9" fill="#50535c">14.50</text></g>
<g transform="translate(990.3,186.4) scale(0.88,1)"><text x="0" y="0" font-family="Liberation Sans, sans-serif" font-size="7.9" fill="#50535c">11.50</text></g>
<g transform="translate(990.3,205.1) scale(0.88,1)"><text x="0" y="0" font-family="Liberation Sans, sans-serif" font-size="7.9" fill="#50535c">9.50</text></g>
<g transform="translate(990.3,228.2) scale(0.88,1)"><text x="0" y="0" font-family="Liberation Sans, sans-serif" font-size="7.9" fill="#50535c">7.50</text></g>
<g transform="translate(990.3,249.7) scale(0.88,1)"><text x="0" y="0" font-family="Liberation Sans, sans-serif" font-size="7.9" fill="#50535c">6.00</text></g>
<g transform="translate(990.3,271.2) scale(0.88,1)"><text x="0" y="0" font-family="Liberation Sans, sans-serif" font-size="7.9" fill="#50535c">4.750</text></g>
<g transform="translate(990.3,294.5) scale(0.88,1)"><text x="0" y="0" font-family="Liberation Sans, sans-serif" font-size="7.9" fill="#50535c">3.750</text></g>
<g transform="translate(990.3,317.5) scale(0.88,1)"><text x="0" y="0" font-family="Liberation Sans, sans-serif" font-size="7.9" fill="#50535c">2.950</text></g>
<g transform="translate(990.3,335.5) scale(0.88,1)"><text x="0" y="0" font-family="Liberation Sans, sans-serif" font-size="7.9" fill="#50535c">2.450</text></g>
<g transform="translate(990.3,357.1) scale(0.88,1)"><text x="0" y="0" font-family="Liberation Sans, sans-serif" font-size="7.9" fill="#50535c">1.950</text></g>
<g transform="translate(990.3,379.2) scale(0.88,1)"><text x="0" y="0" font-family="Liberation Sans, sans-serif" font-size="7.9" fill="#50535c">1.550</text></g>
<g transform="translate(990.3,399.8) scale(0.88,1)"><text x="0" y="0" font-family="Liberation Sans, sans-serif" font-size="7.9" fill="#50535c">1.250</text></g>
<g transform="translate(990.3,421.0) scale(0.88,1)"><text x="0" y="0" font-family="Liberation Sans, sans-serif" font-size="7.9" fill="#50535c">1.000</text></g>
<g transform="translate(990.3,442.8) scale(0.88,1)"><text x="0" y="0" font-family="Liberation Sans, sans-serif" font-size="7.9" fill="#50535c">0.800</text></g>
<g transform="translate(990.3,462.5) scale(0.88,1)"><text x="0" y="0" font-family="Liberation Sans, sans-serif" font-size="7.9" fill="#50535c">0.650</text></g>
<g transform="translate(990.3,487.5) scale(0.88,1)"><text x="0" y="0" font-family="Liberation Sans, sans-serif" font-size="7.9" fill="#50535c">0.5000</text></g>
<g transform="translate(990.3,515.5) scale(0.88,1)"><text x="0" y="0" font-family="Liberation Sans, sans-serif" font-size="7.9" fill="#50535c">80.00</text></g>
<g transform="translate(990.3,540.5) scale(0.88,1)"><text x="0" y="0" font-family="Liberation Sans, sans-serif" font-size="7.9" fill="#50535c">40.00</text></g>
<g transform="translate(63.0,563.9) scale(0.89,1)"><text x="0" y="0" font-family="Liberation Sans, sans-serif" font-size="7.9" fill="#50535c" text-anchor="middle">2008</text></g>
<g transform="translate(110.4,563.9) scale(0.89,1)"><text x="0" y="0" font-family="Liberation Sans, sans-serif" font-size="7.9" fill="#50535c" text-anchor="middle">2009</text></g>
<g transform="translate(157.7,563.9) scale(0.89,1)"><text x="0" y="0" font-family="Liberation Sans, sans-serif" font-size="7.9" fill="#50535c" text-anchor="middle">2010</text></g>
<g transform="translate(205.1,563.9) scale(0.89,1)"><text x="0" y="0" font-family="Liberation Sans, sans-serif" font-size="7.9" fill="#50535c" text-anchor="middle">2011</text></g>
<g transform="translate(252.5,563.9) scale(0.89,1)"><text x="0" y="0" font-family="Liberation Sans, sans-serif" font-size="7.9" fill="#50535c" text-anchor="middle">2012</text></g>
<g transform="translate(299.9,563.9) scale(0.89,1)"><text x="0" y="0" font-family="Liberation Sans, sans-serif" font-size="7.9" fill="#50535c" text-anchor="middle">2013</text></g>
<g transform="translate(347.2,563.9) scale(0.89,1)"><text x="0" y="0" font-family="Liberation Sans, sans-serif" font-size="7.9" fill="#50535c" text-anchor="middle">2014</text></g>
<g transform="translate(394.6,563.9) scale(0.89,1)"><text x="0" y="0" font-family="Liberation Sans, sans-serif" font-size="7.9" fill="#50535c" text-anchor="middle">2015</text></g>
<g transform="translate(442.0,563.9) scale(0.89,1)"><text x="0" y="0" font-family="Liberation Sans, sans-serif" font-size="7.9" fill="#50535c" text-anchor="middle">2016</text></g>
<g transform="translate(489.3,563.9) scale(0.89,1)"><text x="0" y="0" font-family="Liberation Sans, sans-serif" font-size="7.9" fill="#50535c" text-anchor="middle">2017</text></g>
<g transform="translate(536.7,563.9) scale(0.89,1)"><text x="0" y="0" font-family="Liberation Sans, sans-serif" font-size="7.9" fill="#50535c" text-anchor="middle">2018</text></g>
<g transform="translate(584.1,563.9) scale(0.89,1)"><text x="0" y="0" font-family="Liberation Sans, sans-serif" font-size="7.9" fill="#50535c" text-anchor="middle">2019</text></g>
<g transform="translate(631.4,563.9) scale(0.89,1)"><text x="0" y="0" font-family="Liberation Sans, sans-serif" font-size="7.9" fill="#50535c" text-anchor="middle">2020</text></g>
<g transform="translate(678.8,563.9) scale(0.89,1)"><text x="0" y="0" font-family="Liberation Sans, sans-serif" font-size="7.9" fill="#50535c" text-anchor="middle">2021</text></g>
<g transform="translate(726.2,563.9) scale(0.89,1)"><text x="0" y="0" font-family="Liberation Sans, sans-serif" font-size="7.9" fill="#50535c" text-anchor="middle">2022</text></g>
<g transform="translate(773.5,563.9) scale(0.89,1)"><text x="0" y="0" font-family="Liberation Sans, sans-serif" font-size="7.9" fill="#50535c" text-anchor="middle">2023</text></g>
<g transform="translate(820.9,563.9) scale(0.89,1)"><text x="0" y="0" font-family="Liberation Sans, sans-serif" font-size="7.9" fill="#50535c" text-anchor="middle">2024</text></g>
<g transform="translate(868.3,563.9) scale(0.89,1)"><text x="0" y="0" font-family="Liberation Sans, sans-serif" font-size="7.9" fill="#50535c" text-anchor="middle">2025</text></g>
<g transform="translate(915.7,563.9) scale(0.89,1)"><text x="0" y="0" font-family="Liberation Sans, sans-serif" font-size="7.9" fill="#50535c" text-anchor="middle">2026</text></g>
<g transform="translate(963.0,563.9) scale(0.89,1)"><text x="0" y="0" font-family="Liberation Sans, sans-serif" font-size="7.9" fill="#50535c" text-anchor="middle">2027</text></g>
<g fill="#dedede"><path d="M7.6 585.1 H15.2 V593.9 H11.3 V588.9 H7.6 Z"/><circle cx="18.3" cy="587.0" r="1.85"/><path d="M21.7 585.1 H26.4 L22.6 593.9 H18.0 Z"/></g>
<text x="31" y="594" font-family="Liberation Sans, sans-serif" font-size="12.3" fill="#dcdcdc" textLength="76.2" lengthAdjust="spacingAndGlyphs" font-weight="bold">TradingView</text>
</svg></body></html>
